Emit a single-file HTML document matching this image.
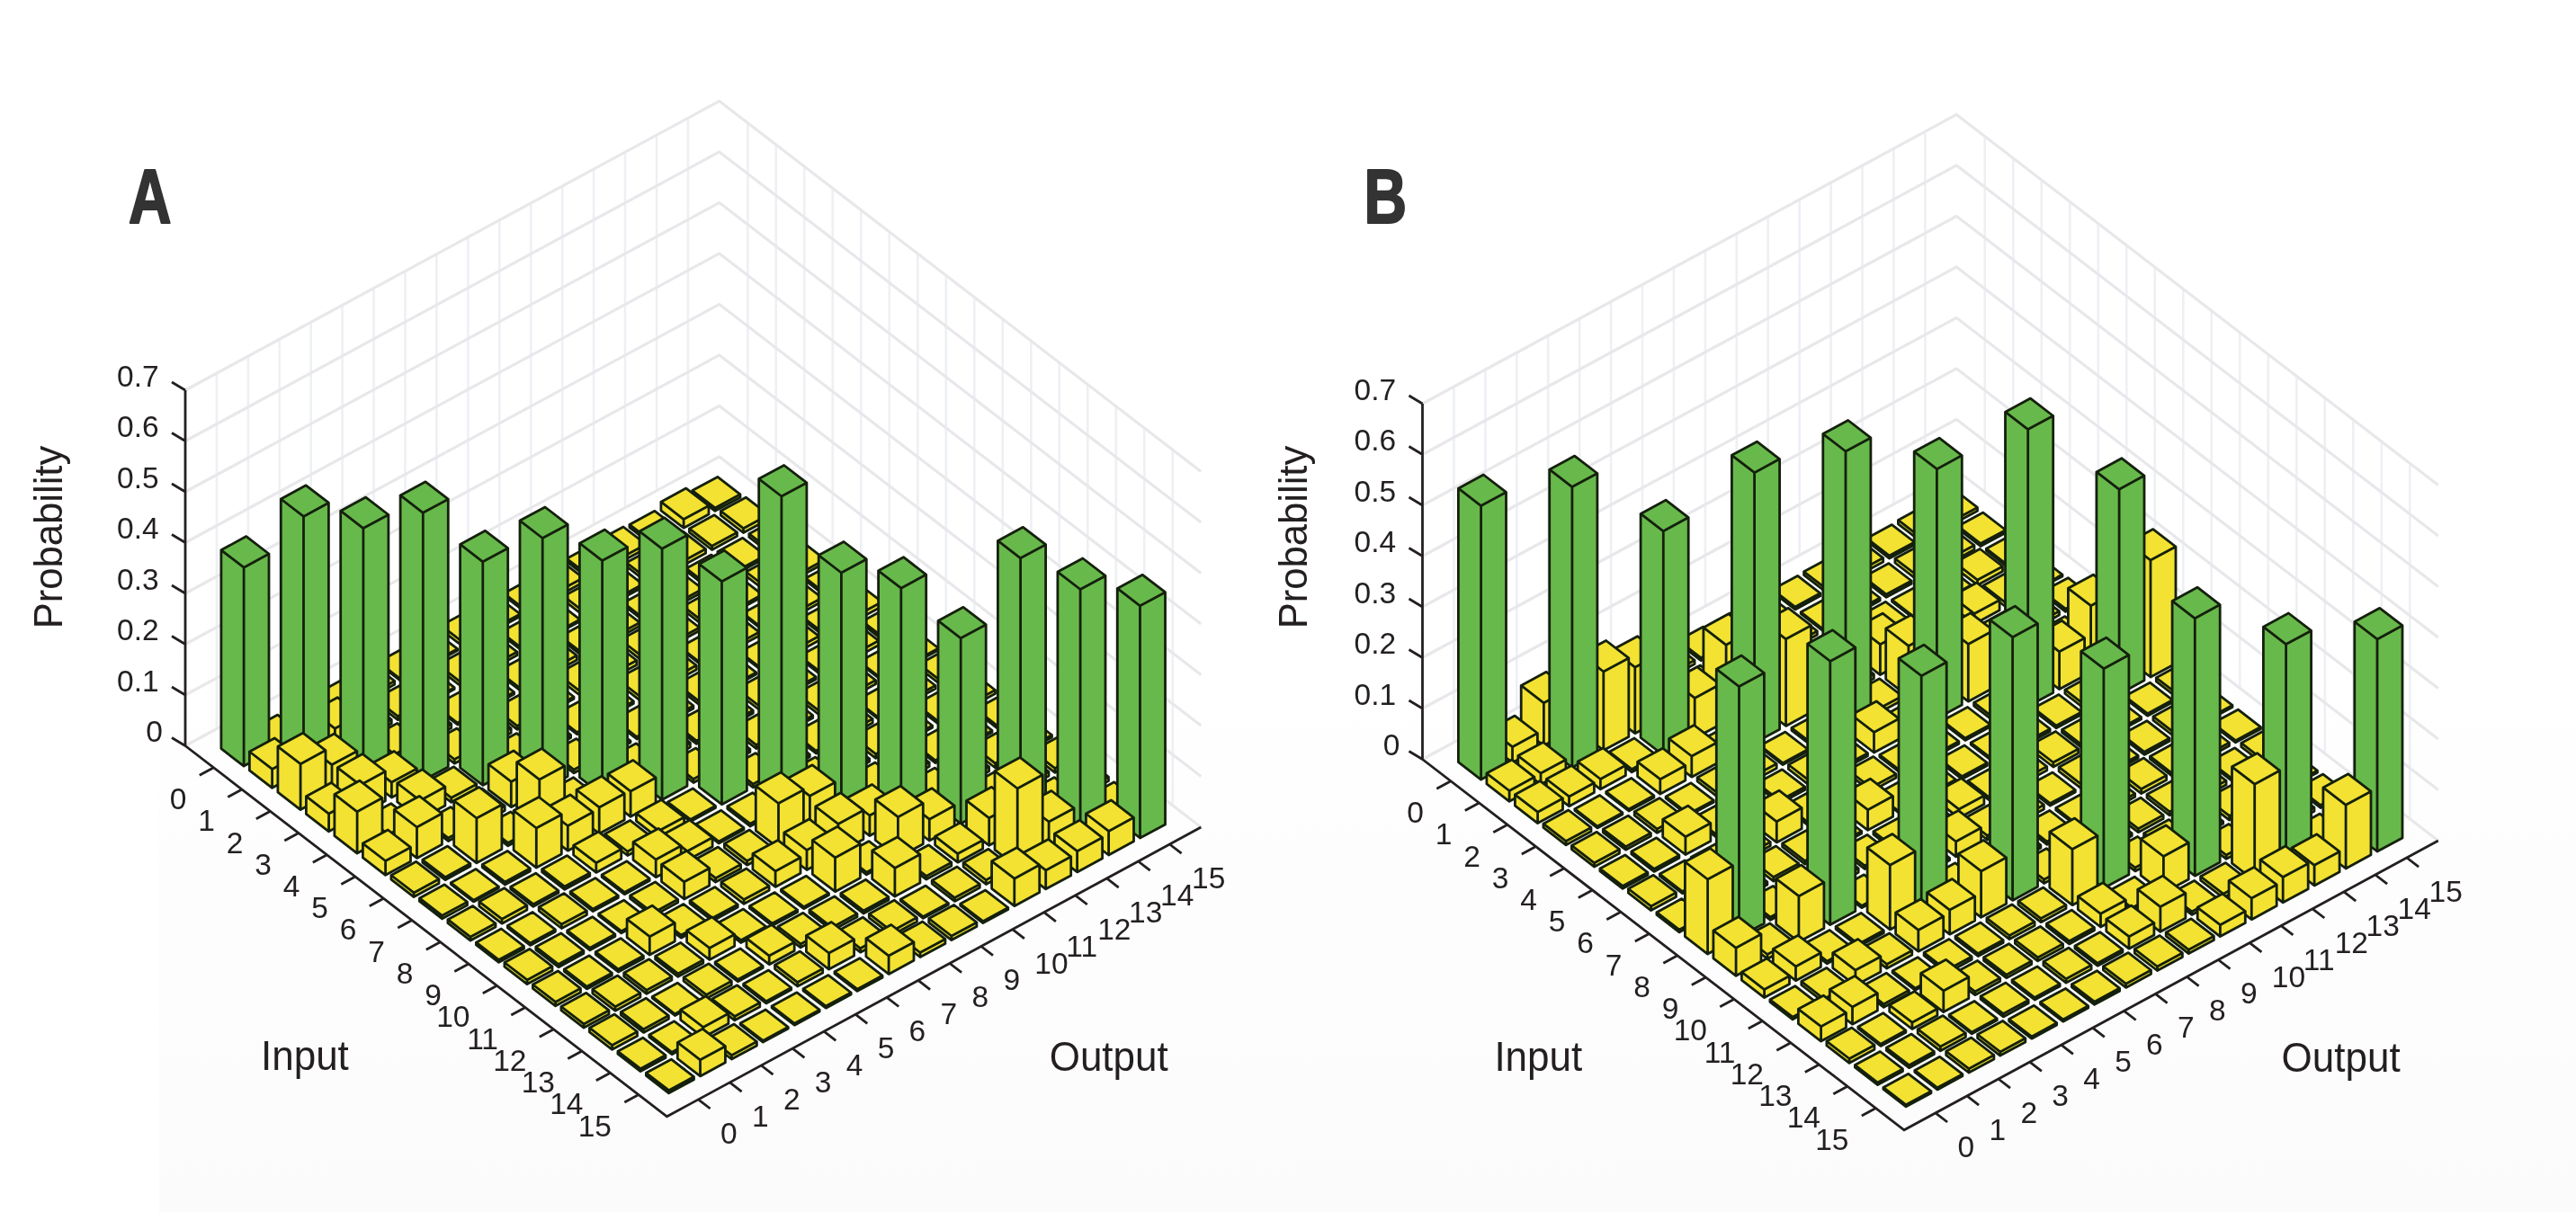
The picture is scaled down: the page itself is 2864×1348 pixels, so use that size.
<!DOCTYPE html><html><head><meta charset="utf-8"><style>html,body{margin:0;padding:0;background:#fff;overflow:hidden}svg{display:block;filter:blur(0.45px)}</style></head><body>
<svg width="2864" height="1348" viewBox="0 0 2864 1348">
<rect width="2864" height="1348" fill="#fff"/>
<defs><linearGradient id="tg" x1="0" y1="0" x2="0" y2="1"><stop offset="0" stop-color="#fcfbfc" stop-opacity="0"/><stop offset="1" stop-color="#fcfbfc" stop-opacity="1"/></linearGradient></defs><rect x="177" y="700" width="2687" height="648" fill="url(#tg)"/>
<path d="M240.9,810.6V415.1M831.3,532.1V136.6M275.9,791.7V396.2M862.8,556.4V160.9M310.8,772.7V377.2M894.3,580.6V185.1M345.7,753.8V358.3M925.8,604.9V209.4M380.6,734.9V339.4M957.3,629.1V233.6M415.6,716V320.5M988.8,653.4V257.9M450.5,697.1V301.6M1020.3,677.6V282.1M485.4,678.1V282.6M1051.8,701.9V306.4M520.4,659.2V263.7M1083.3,726.1V330.6M555.3,640.3V244.8M1114.8,750.4V354.9M590.2,621.4V225.9M1146.3,774.6V379.1M625.2,602.5V207M1177.8,798.9V403.4M660.1,583.5V188M1209.3,823.1V427.6M695,564.6V169.1M1240.8,847.4V451.9M730,545.7V150.2M1272.3,871.6V476.1M764.9,526.8V131.3M1303.8,895.9V500.4" fill="none" stroke="#edf0f4" stroke-width="2.6"/>
<path d="M206,829.5L799.8,507.9L1335.3,920.1M206,773L799.8,451.4L1335.3,863.6M206,716.5L799.8,394.9L1335.3,807.1M206,660L799.8,338.4L1335.3,750.6M206,603.5L799.8,281.9L1335.3,694.1M206,547L799.8,225.4L1335.3,637.6M206,490.5L799.8,168.9L1335.3,581.1M206,434L799.8,112.4L1335.3,524.6" fill="none" stroke="#e8e8eb" stroke-width="3.2" stroke-linejoin="round"/>
<style>.g{fill:#68b94b}.y{fill:#f3e232}</style><g stroke="#14200c" stroke-width="2.8" stroke-linejoin="round" stroke-linecap="round">
<path class="y" d="M769.8,548.9L795,568.3L823,553.2L823,549.8L797.8,530.4L769.8,545.5ZM769.8,545.5L795,564.9L823,549.8M795,564.9L795,568.3"/>
<path class="y" d="M734.9,567.8L760.1,587.2L788,572.1L788,562.5L762.8,543.1L734.9,558.2ZM734.9,558.2L760.1,577.6L788,562.5M760.1,577.6L760.1,587.2"/>
<path class="y" d="M801.3,573.1L826.5,592.5L854.5,577.4L854.5,572.6L829.3,553.2L801.3,568.3ZM801.3,568.3L826.5,587.7L854.5,572.6M826.5,587.7L826.5,592.5"/>
<path class="y" d="M699.9,586.7L725.1,606.1L753.1,591L753.1,587.7L727.9,568.3L699.9,583.4ZM699.9,583.4L725.1,602.8L753.1,587.7M725.1,602.8L725.1,606.1"/>
<path class="y" d="M766.4,592.1L791.6,611.5L819.5,596.3L819.5,592.2L794.3,572.8L766.4,587.9ZM766.4,587.9L791.6,607.3L819.5,592.2M791.6,607.3L791.6,611.5"/>
<path class="y" d="M832.8,597.4L858,616.8L886,601.7L886,598L860.8,578.6L832.8,593.7ZM832.8,593.7L858,613.1L886,598M858,613.1L858,616.8"/>
<path class="y" d="M665,605.7L690.2,625.1L718.2,609.9L718.2,605.4L693,586L665,601.1ZM665,601.1L690.2,620.5L718.2,605.4M690.2,620.5L690.2,625.1"/>
<path class="y" d="M731.4,611L756.6,630.4L784.6,615.3L784.6,610.6L759.4,591.2L731.4,606.3ZM731.4,606.3L756.6,625.7L784.6,610.6M756.6,625.7L756.6,630.4"/>
<path class="y" d="M797.9,616.3L823.1,635.7L851,620.6L851,617.7L825.8,598.3L797.9,613.4ZM797.9,613.4L823.1,632.8L851,617.7M823.1,632.8L823.1,635.7"/>
<path class="y" d="M864.3,621.6L889.5,641L917.5,625.9L917.5,622.3L892.3,602.9L864.3,618ZM864.3,618L889.5,637.4L917.5,622.3M889.5,637.4L889.5,641"/>
<path class="y" d="M630.1,624.6L655.3,644L683.2,628.8L683.2,625.6L658,606.2L630.1,621.3ZM630.1,621.3L655.3,640.7L683.2,625.6M655.3,640.7L655.3,644"/>
<path class="y" d="M696.5,629.9L721.7,649.3L749.7,634.2L749.7,630L724.5,610.6L696.5,625.8ZM696.5,625.8L721.7,645.2L749.7,630M721.7,645.2L721.7,649.3"/>
<path class="y" d="M762.9,635.2L788.1,654.6L816.1,639.5L816.1,636.5L790.9,617.1L762.9,632.2ZM762.9,632.2L788.1,651.6L816.1,636.5M788.1,651.6L788.1,654.6"/>
<path class="y" d="M829.4,640.6L854.6,660L882.5,644.8L882.5,640.3L857.3,620.9L829.4,636ZM829.4,636L854.6,655.4L882.5,640.3M854.6,655.4L854.6,660"/>
<path class="y" d="M895.8,645.9L921,665.3L949,650.2L949,647.3L923.8,627.9L895.8,643.1ZM895.8,643.1L921,662.5L949,647.3M921,662.5L921,665.3"/>
<path class="y" d="M595.2,643.5L620.4,662.9L648.3,647.8L648.3,642.7L623.1,623.3L595.2,638.4ZM595.2,638.4L620.4,657.8L648.3,642.7M620.4,657.8L620.4,662.9"/>
<path class="y" d="M661.6,648.8L686.8,668.2L714.7,653.1L714.7,649.8L689.5,630.4L661.6,645.6ZM661.6,645.6L686.8,665L714.7,649.8M686.8,665L686.8,668.2"/>
<path class="y" d="M728,654.2L753.2,673.6L781.2,658.4L781.2,655L756,635.6L728,650.8ZM728,650.8L753.2,670.2L781.2,655M753.2,670.2L753.2,673.6"/>
<path class="y" d="M794.4,659.5L819.6,678.9L847.6,663.8L847.6,661.3L822.4,641.9L794.4,657.1ZM794.4,657.1L819.6,676.5L847.6,661.3M819.6,676.5L819.6,678.9"/>
<path class="y" d="M860.9,664.8L886.1,684.2L914,669.1L914,665L888.8,645.6L860.9,660.7ZM860.9,660.7L886.1,680.1L914,665M886.1,680.1L886.1,684.2"/>
<path class="y" d="M927.3,670.1L952.5,689.5L980.5,674.4L980.5,669.4L955.3,650L927.3,665.2ZM927.3,665.2L952.5,684.6L980.5,669.4M952.5,684.6L952.5,689.5"/>
<path class="y" d="M560.2,662.4L585.4,681.8L613.4,666.7L613.4,664.2L588.2,644.8L560.2,659.9ZM560.2,659.9L585.4,679.3L613.4,664.2M585.4,679.3L585.4,681.8"/>
<path class="y" d="M626.7,667.7L651.9,687.1L679.8,672L679.8,667.4L654.6,648L626.7,663.1ZM626.7,663.1L651.9,682.5L679.8,667.4M651.9,682.5L651.9,687.1"/>
<path class="y" d="M693.1,673.1L718.3,692.5L746.2,677.3L746.2,674.6L721,655.2L693.1,670.4ZM693.1,670.4L718.3,689.8L746.2,674.6M718.3,689.8L718.3,692.5"/>
<path class="y" d="M759.5,678.4L784.7,697.8L812.7,682.7L812.7,678.5L787.5,659.1L759.5,674.3ZM759.5,674.3L784.7,693.7L812.7,678.5M784.7,693.7L784.7,697.8"/>
<path class="y" d="M825.9,683.7L851.1,703.1L879.1,688L879.1,686.1L853.9,666.7L825.9,681.9ZM825.9,681.9L851.1,701.3L879.1,686.1M851.1,701.3L851.1,703.1"/>
<path class="y" d="M892.4,689.1L917.6,708.5L945.5,693.3L945.5,690.6L920.3,671.2L892.4,686.3ZM892.4,686.3L917.6,705.7L945.5,690.6M917.6,705.7L917.6,708.5"/>
<path class="y" d="M958.8,694.4L984,713.8L1012,698.7L1012,695.2L986.8,675.8L958.8,691ZM958.8,691L984,710.4L1012,695.2M984,710.4L984,713.8"/>
<path class="y" d="M525.3,681.3L550.5,700.7L578.4,685.6L578.4,683L553.2,663.6L525.3,678.7ZM525.3,678.7L550.5,698.1L578.4,683M550.5,698.1L550.5,700.7"/>
<path class="y" d="M591.7,686.7L616.9,706.1L644.9,690.9L644.9,689.1L619.7,669.7L591.7,684.9ZM591.7,684.9L616.9,704.3L644.9,689.1M616.9,704.3L616.9,706.1"/>
<path class="y" d="M658.2,692L683.4,711.4L711.3,696.3L711.3,692.4L686.1,673L658.2,688.2ZM658.2,688.2L683.4,707.6L711.3,692.4M683.4,707.6L683.4,711.4"/>
<path class="y" d="M724.6,697.3L749.8,716.7L777.7,701.6L777.7,698L752.5,678.6L724.6,693.7ZM724.6,693.7L749.8,713.1L777.7,698M749.8,713.1L749.8,716.7"/>
<path class="y" d="M791,702.7L816.2,722.1L844.2,706.9L844.2,703.1L819,683.7L791,698.9ZM791,698.9L816.2,718.3L844.2,703.1M816.2,718.3L816.2,722.1"/>
<path class="y" d="M857.4,708L882.6,727.4L910.6,712.3L910.6,707.6L885.4,688.2L857.4,703.4ZM857.4,703.4L882.6,722.8L910.6,707.6M882.6,722.8L882.6,727.4"/>
<path class="y" d="M923.9,713.3L949.1,732.7L977,717.6L977,712.6L951.8,693.2L923.9,708.3ZM923.9,708.3L949.1,727.7L977,712.6M949.1,727.7L949.1,732.7"/>
<path class="y" d="M990.3,718.6L1015.5,738L1043.5,722.9L1043.5,721L1018.3,701.6L990.3,716.7ZM990.3,716.7L1015.5,736.1L1043.5,721M1015.5,736.1L1015.5,738"/>
<path class="y" d="M490.4,700.3L515.6,719.7L543.5,704.5L543.5,700L518.3,680.6L490.4,695.7ZM490.4,695.7L515.6,715.1L543.5,700M515.6,715.1L515.6,719.7"/>
<path class="y" d="M556.8,705.6L582,725L609.9,709.9L609.9,707.1L584.7,687.7L556.8,702.9ZM556.8,702.9L582,722.3L609.9,707.1M582,722.3L582,725"/>
<path class="y" d="M623.2,710.9L648.4,730.3L676.4,715.2L676.4,712L651.2,692.6L623.2,707.8ZM623.2,707.8L648.4,727.2L676.4,712M648.4,727.2L648.4,730.3"/>
<path class="y" d="M689.7,716.2L714.9,735.6L742.8,720.5L742.8,715.8L717.6,696.4L689.7,711.5ZM689.7,711.5L714.9,730.9L742.8,715.8M714.9,730.9L714.9,735.6"/>
<path class="y" d="M756.1,721.6L781.3,741L809.2,725.8L809.2,724L784,704.6L756.1,719.7ZM756.1,719.7L781.3,739.1L809.2,724M781.3,739.1L781.3,741"/>
<path class="y" d="M822.5,726.9L847.7,746.3L875.7,731.2L875.7,729.3L850.5,709.9L822.5,725ZM822.5,725L847.7,744.4L875.7,729.3M847.7,744.4L847.7,746.3"/>
<path class="y" d="M888.9,732.2L914.1,751.6L942.1,736.5L942.1,733.8L916.9,714.4L888.9,729.5ZM888.9,729.5L914.1,748.9L942.1,733.8M914.1,748.9L914.1,751.6"/>
<path class="y" d="M955.4,737.6L980.6,757L1008.5,741.8L1008.5,740.1L983.3,720.7L955.4,735.8ZM955.4,735.8L980.6,755.2L1008.5,740.1M980.6,755.2L980.6,757"/>
<path class="y" d="M1021.8,742.9L1047,762.3L1075,747.2L1075,743L1049.8,723.6L1021.8,738.7ZM1021.8,738.7L1047,758.1L1075,743M1047,758.1L1047,762.3"/>
<path class="y" d="M455.4,719.2L480.6,738.6L508.6,723.4L508.6,721.7L483.4,702.3L455.4,717.4ZM455.4,717.4L480.6,736.8L508.6,721.7M480.6,736.8L480.6,738.6"/>
<path class="y" d="M521.9,724.5L547.1,743.9L575,728.8L575,725.1L549.8,705.7L521.9,720.8ZM521.9,720.8L547.1,740.2L575,725.1M547.1,740.2L547.1,743.9"/>
<path class="y" d="M588.3,729.8L613.5,749.2L641.4,734.1L641.4,729.1L616.2,709.7L588.3,724.9ZM588.3,724.9L613.5,744.3L641.4,729.1M613.5,744.3L613.5,749.2"/>
<path class="y" d="M654.7,735.2L679.9,754.6L707.9,739.4L707.9,734.5L682.7,715.1L654.7,730.2ZM654.7,730.2L679.9,749.6L707.9,734.5M679.9,749.6L679.9,754.6"/>
<path class="y" d="M721.2,740.5L746.4,759.9L774.3,744.8L774.3,740.1L749.1,720.7L721.2,735.9ZM721.2,735.9L746.4,755.3L774.3,740.1M746.4,755.3L746.4,759.9"/>
<path class="y" d="M787.6,745.8L812.8,765.2L840.7,750.1L840.7,747.9L815.5,728.5L787.6,743.6ZM787.6,743.6L812.8,763L840.7,747.9M812.8,763L812.8,765.2"/>
<path class="y" d="M854,751.2L879.2,770.6L907.2,755.4L907.2,752.9L882,733.5L854,748.7ZM854,748.7L879.2,768.1L907.2,752.9M879.2,768.1L879.2,770.6"/>
<path class="y" d="M920.4,756.5L945.6,775.9L973.6,760.8L973.6,756.6L948.4,737.2L920.4,752.3ZM920.4,752.3L945.6,771.7L973.6,756.6M945.6,771.7L945.6,775.9"/>
<path class="y" d="M986.9,761.8L1012.1,781.2L1040,766.1L1040,762.5L1014.8,743.1L986.9,758.2ZM986.9,758.2L1012.1,777.6L1040,762.5M1012.1,777.6L1012.1,781.2"/>
<path class="y" d="M1053.3,767.1L1078.5,786.5L1106.5,771.4L1106.5,767.5L1081.3,748.1L1053.3,763.2ZM1053.3,763.2L1078.5,782.6L1106.5,767.5M1078.5,782.6L1078.5,786.5"/>
<path class="y" d="M420.5,738.1L445.7,757.5L473.7,742.4L473.7,740.4L448.5,721L420.5,736.2ZM420.5,736.2L445.7,755.6L473.7,740.4M445.7,755.6L445.7,757.5"/>
<path class="y" d="M486.9,743.4L512.1,762.8L540.1,747.7L540.1,743.5L514.9,724.1L486.9,739.2ZM486.9,739.2L512.1,758.6L540.1,743.5M512.1,758.6L512.1,762.8"/>
<path class="y" d="M553.4,748.8L578.6,768.2L606.5,753L606.5,750.6L581.3,731.2L553.4,746.3ZM553.4,746.3L578.6,765.7L606.5,750.6M578.6,765.7L578.6,768.2"/>
<path class="y" d="M619.8,754.1L645,773.5L672.9,758.4L672.9,753.7L647.7,734.3L619.8,749.5ZM619.8,749.5L645,768.9L672.9,753.7M645,768.9L645,773.5"/>
<path class="y" d="M686.2,759.4L711.4,778.8L739.4,763.7L739.4,759.4L714.2,740L686.2,755.1ZM686.2,755.1L711.4,774.5L739.4,759.4M711.4,774.5L711.4,778.8"/>
<path class="y" d="M752.7,764.7L777.9,784.1L805.8,769L805.8,765.2L780.6,745.8L752.7,761ZM752.7,761L777.9,780.4L805.8,765.2M777.9,780.4L777.9,784.1"/>
<path class="y" d="M819.1,770.1L844.3,789.5L872.2,774.3L872.2,770.2L847,750.8L819.1,766ZM819.1,766L844.3,785.4L872.2,770.2M844.3,785.4L844.3,789.5"/>
<path class="y" d="M885.5,775.4L910.7,794.8L938.7,779.7L938.7,775.6L913.5,756.2L885.5,771.3ZM885.5,771.3L910.7,790.7L938.7,775.6M910.7,790.7L910.7,794.8"/>
<path class="y" d="M951.9,780.7L977.1,800.1L1005.1,785L1005.1,783.2L979.9,763.8L951.9,778.9ZM951.9,778.9L977.1,798.3L1005.1,783.2M977.1,798.3L977.1,800.1"/>
<path class="y" d="M1018.4,786.1L1043.6,805.5L1071.5,790.3L1071.5,787.5L1046.3,768.1L1018.4,783.2ZM1018.4,783.2L1043.6,802.6L1071.5,787.5M1043.6,802.6L1043.6,805.5"/>
<path class="y" d="M1084.8,791.4L1110,810.8L1138,795.7L1138,793L1112.8,773.5L1084.8,788.7ZM1084.8,788.7L1110,808.1L1138,793M1110,808.1L1110,810.8"/>
<path class="y" d="M385.6,757L410.8,776.4L438.7,761.3L438.7,757.4L413.5,738L385.6,753.2ZM385.6,753.2L410.8,772.6L438.7,757.4M410.8,772.6L410.8,776.4"/>
<path class="y" d="M452,762.3L477.2,781.7L505.2,766.6L505.2,764.7L480,745.3L452,760.4ZM452,760.4L477.2,779.8L505.2,764.7M477.2,779.8L477.2,781.7"/>
<path class="y" d="M518.4,767.7L543.6,787.1L571.6,771.9L571.6,769.8L546.4,750.4L518.4,765.5ZM518.4,765.5L543.6,784.9L571.6,769.8M543.6,784.9L543.6,787.1"/>
<path class="y" d="M584.9,773L610.1,792.4L638,777.3L638,775L612.8,755.6L584.9,770.7ZM584.9,770.7L610.1,790.1L638,775M610.1,790.1L610.1,792.4"/>
<path class="y" d="M651.3,778.3L676.5,797.7L704.4,782.6L704.4,779.9L679.2,760.5L651.3,775.6ZM651.3,775.6L676.5,795L704.4,779.9M676.5,795L676.5,797.7"/>
<path class="y" d="M717.7,783.7L742.9,803.1L770.9,787.9L770.9,784.9L745.7,765.5L717.7,780.6ZM717.7,780.6L742.9,800L770.9,784.9M742.9,800L742.9,803.1"/>
<path class="y" d="M784.2,789L809.4,808.4L837.3,793.3L837.3,790.1L812.1,770.7L784.2,785.8ZM784.2,785.8L809.4,805.2L837.3,790.1M809.4,805.2L809.4,808.4"/>
<path class="y" d="M850.6,794.3L875.8,813.7L903.7,798.6L903.7,795.7L878.5,776.3L850.6,791.4ZM850.6,791.4L875.8,810.8L903.7,795.7M875.8,810.8L875.8,813.7"/>
<path class="y" d="M917,799.7L942.2,819.1L970.2,803.9L970.2,799.6L945,780.2L917,795.4ZM917,795.4L942.2,814.8L970.2,799.6M942.2,814.8L942.2,819.1"/>
<path class="y" d="M983.4,805L1008.6,824.4L1036.6,809.3L1036.6,807L1011.4,787.6L983.4,802.7ZM983.4,802.7L1008.6,822.1L1036.6,807M1008.6,822.1L1008.6,824.4"/>
<path class="y" d="M1049.9,810.3L1075.1,829.7L1103,814.6L1103,812.4L1077.8,793L1049.9,808.2ZM1049.9,808.2L1075.1,827.6L1103,812.4M1075.1,827.6L1075.1,829.7"/>
<path class="y" d="M1116.3,815.6L1141.5,835L1169.5,819.9L1169.5,817.5L1144.3,798.1L1116.3,813.2ZM1116.3,813.2L1141.5,832.6L1169.5,817.5M1141.5,832.6L1141.5,835"/>
<path class="y" d="M350.6,775.9L375.8,795.3L403.8,780.2L403.8,776.5L378.6,757.1L350.6,772.2ZM350.6,772.2L375.8,791.6L403.8,776.5M375.8,791.6L375.8,795.3"/>
<path class="y" d="M417.1,781.3L442.3,800.7L470.2,785.5L470.2,781.6L445,762.2L417.1,777.3ZM417.1,777.3L442.3,796.7L470.2,781.6M442.3,796.7L442.3,800.7"/>
<path class="y" d="M483.5,786.6L508.7,806L536.7,790.9L536.7,788.8L511.5,769.4L483.5,784.6ZM483.5,784.6L508.7,804L536.7,788.8M508.7,804L508.7,806"/>
<path class="y" d="M549.9,791.9L575.1,811.3L603.1,796.2L603.1,792.2L577.9,772.8L549.9,788ZM549.9,788L575.1,807.4L603.1,792.2M575.1,807.4L575.1,811.3"/>
<path class="y" d="M616.4,797.3L641.6,816.7L669.5,801.5L669.5,799.3L644.3,779.9L616.4,795.1ZM616.4,795.1L641.6,814.5L669.5,799.3M641.6,814.5L641.6,816.7"/>
<path class="y" d="M682.8,802.6L708,822L735.9,806.9L735.9,804.5L710.7,785.1L682.8,800.2ZM682.8,800.2L708,819.6L735.9,804.5M708,819.6L708,822"/>
<path class="y" d="M749.2,807.9L774.4,827.3L802.4,812.2L802.4,808.8L777.2,789.4L749.2,804.5ZM749.2,804.5L774.4,823.9L802.4,808.8M774.4,823.9L774.4,827.3"/>
<path class="y" d="M815.7,813.2L840.9,832.6L868.8,817.5L868.8,813.5L843.6,794.1L815.7,809.2ZM815.7,809.2L840.9,828.6L868.8,813.5M840.9,828.6L840.9,832.6"/>
<path class="y" d="M882.1,818.6L907.3,838L935.2,822.8L935.2,819.8L910,800.4L882.1,815.6ZM882.1,815.6L907.3,835L935.2,819.8M907.3,835L907.3,838"/>
<path class="y" d="M948.5,823.9L973.7,843.3L1001.7,828.2L1001.7,823.6L976.5,804.2L948.5,819.3ZM948.5,819.3L973.7,838.7L1001.7,823.6M973.7,838.7L973.7,843.3"/>
<path class="y" d="M1014.9,829.2L1040.1,848.6L1068.1,833.5L1068.1,830.6L1042.9,811.2L1014.9,826.4ZM1014.9,826.4L1040.1,845.8L1068.1,830.6M1040.1,845.8L1040.1,848.6"/>
<path class="y" d="M1081.4,834.6L1106.6,854L1134.5,838.8L1134.5,834L1109.3,814.6L1081.4,829.7ZM1081.4,829.7L1106.6,849.1L1134.5,834M1106.6,849.1L1106.6,854"/>
<path class="y" d="M1147.8,839.9L1173,859.3L1201,844.2L1201,839.4L1175.8,820L1147.8,835.2ZM1147.8,835.2L1173,854.6L1201,839.4M1173,854.6L1173,859.3"/>
<path class="y" d="M315.7,794.9L340.9,814.3L368.9,799.1L368.9,796.2L343.7,776.8L315.7,791.9ZM315.7,791.9L340.9,811.3L368.9,796.2M340.9,811.3L340.9,814.3"/>
<path class="y" d="M382.1,800.2L407.3,819.6L435.3,804.5L435.3,800.3L410.1,780.9L382.1,796ZM382.1,796L407.3,815.4L435.3,800.3M407.3,815.4L407.3,819.6"/>
<path class="y" d="M448.6,805.5L473.8,824.9L501.7,809.8L501.7,805.1L476.5,785.7L448.6,800.8ZM448.6,800.8L473.8,820.2L501.7,805.1M473.8,820.2L473.8,824.9"/>
<path class="y" d="M515,810.8L540.2,830.2L568.2,815.1L568.2,810.1L543,790.7L515,805.8ZM515,805.8L540.2,825.2L568.2,810.1M540.2,825.2L540.2,830.2"/>
<path class="y" d="M581.4,816.2L606.6,835.6L634.6,820.4L634.6,817.3L609.4,797.9L581.4,813.1ZM581.4,813.1L606.6,832.5L634.6,817.3M606.6,832.5L606.6,835.6"/>
<path class="y" d="M647.9,821.5L673.1,840.9L701,825.8L701,824L675.8,804.6L647.9,819.7ZM647.9,819.7L673.1,839.1L701,824M673.1,839.1L673.1,840.9"/>
<path class="y" d="M714.3,826.8L739.5,846.2L767.4,831.1L767.4,826.2L742.2,806.8L714.3,822ZM714.3,822L739.5,841.4L767.4,826.2M739.5,841.4L739.5,846.2"/>
<path class="y" d="M780.7,832.2L805.9,851.6L833.9,836.4L833.9,833.2L808.7,813.8L780.7,828.9ZM780.7,828.9L805.9,848.3L833.9,833.2M805.9,848.3L805.9,851.6"/>
<path class="y" d="M847.2,837.5L872.4,856.9L900.3,841.8L900.3,839.1L875.1,819.6L847.2,834.8ZM847.2,834.8L872.4,854.2L900.3,839.1M872.4,854.2L872.4,856.9"/>
<path class="y" d="M913.6,842.8L938.8,862.2L966.7,847.1L966.7,843.9L941.5,824.5L913.6,839.7ZM913.6,839.7L938.8,859.1L966.7,843.9M938.8,859.1L938.8,862.2"/>
<path class="y" d="M980,848.2L1005.2,867.6L1033.2,852.4L1033.2,848L1008,828.6L980,843.8ZM980,843.8L1005.2,863.2L1033.2,848M1005.2,863.2L1005.2,867.6"/>
<path class="y" d="M1046.4,853.5L1071.6,872.9L1099.6,857.8L1099.6,852.8L1074.4,833.4L1046.4,848.6ZM1046.4,848.6L1071.6,868L1099.6,852.8M1071.6,868L1071.6,872.9"/>
<path class="y" d="M1112.9,858.8L1138.1,878.2L1166,863.1L1166,858.3L1140.8,838.9L1112.9,854ZM1112.9,854L1138.1,873.4L1166,858.3M1138.1,873.4L1138.1,878.2"/>
<path class="y" d="M1179.3,864.1L1204.5,883.5L1232.5,868.4L1232.5,864.1L1207.3,844.7L1179.3,859.8ZM1179.3,859.8L1204.5,879.2L1232.5,864.1M1204.5,879.2L1204.5,883.5"/>
<path class="y" d="M280.8,813.8L306,833.2L333.9,818L333.9,814.5L308.7,795.1L280.8,810.2ZM280.8,810.2L306,829.6L333.9,814.5M306,829.6L306,833.2"/>
<path class="y" d="M347.2,819.1L372.4,838.5L400.4,823.4L400.4,795.1L375.2,775.7L347.2,790.9ZM347.2,790.9L372.4,810.3L400.4,795.1M372.4,810.3L372.4,838.5"/>
<path class="y" d="M413.6,824.4L438.8,843.8L466.8,828.7L466.8,823.8L441.6,804.4L413.6,819.6ZM413.6,819.6L438.8,839L466.8,823.8M438.8,839L438.8,843.8"/>
<path class="y" d="M480.1,829.8L505.3,849.2L533.2,834L533.2,829.5L508,810.1L480.1,825.2ZM480.1,825.2L505.3,844.6L533.2,829.5M505.3,844.6L505.3,849.2"/>
<path class="y" d="M546.5,835.1L571.7,854.5L599.7,839.4L599.7,835L574.5,815.6L546.5,830.7ZM546.5,830.7L571.7,850.1L599.7,835M571.7,850.1L571.7,854.5"/>
<path class="y" d="M612.9,840.4L638.1,859.8L666.1,844.7L666.1,841L640.9,821.6L612.9,836.7ZM612.9,836.7L638.1,856.1L666.1,841M638.1,856.1L638.1,859.8"/>
<path class="y" d="M679.4,845.8L704.6,865.2L732.5,850L732.5,846.2L707.3,826.8L679.4,842ZM679.4,842L704.6,861.4L732.5,846.2M704.6,861.4L704.6,865.2"/>
<path class="y" d="M745.8,851.1L771,870.5L798.9,855.4L798.9,851.5L773.7,832.1L745.8,847.2ZM745.8,847.2L771,866.6L798.9,851.5M771,866.6L771,870.5"/>
<path class="y" d="M812.2,856.4L837.4,875.8L865.4,860.7L865.4,857L840.2,837.6L812.2,852.7ZM812.2,852.7L837.4,872.1L865.4,857M837.4,872.1L837.4,875.8"/>
<path class="y" d="M878.7,861.7L903.9,881.1L931.8,866L931.8,861.5L906.6,842.1L878.7,857.2ZM878.7,857.2L903.9,876.6L931.8,861.5M903.9,876.6L903.9,881.1"/>
<path class="y" d="M945.1,867.1L970.3,886.5L998.2,871.3L998.2,867.4L973,848L945.1,863.2ZM945.1,863.2L970.3,882.6L998.2,867.4M970.3,882.6L970.3,886.5"/>
<path class="y" d="M1011.5,872.4L1036.7,891.8L1064.7,876.7L1064.7,873.5L1039.5,854.1L1011.5,869.2ZM1011.5,869.2L1036.7,888.6L1064.7,873.5M1036.7,888.6L1036.7,891.8"/>
<path class="y" d="M1077.9,877.7L1103.1,897.1L1131.1,882L1131.1,877.9L1105.9,858.5L1077.9,873.7ZM1077.9,873.7L1103.1,893.1L1131.1,877.9M1103.1,893.1L1103.1,897.1"/>
<path class="y" d="M1144.4,883.1L1169.6,902.5L1197.5,887.3L1197.5,884L1172.3,864.6L1144.4,879.7ZM1144.4,879.7L1169.6,899.1L1197.5,884M1169.6,899.1L1169.6,902.5"/>
<path class="y" d="M1210.8,888.4L1236,907.8L1264,892.7L1264,889.2L1238.8,869.8L1210.8,884.9ZM1210.8,884.9L1236,904.3L1264,889.2M1236,904.3L1236,907.8"/>
<path class="g" d="M245.9,832.7L271.1,852.1L299,837L299,616L273.8,596.6L245.9,611.8ZM245.9,611.8L271.1,631.2L299,616M271.1,631.2L271.1,852.1"/>
<path class="g" d="M312.3,838L337.5,857.4L365.4,842.3L365.4,559.2L340.2,539.8L312.3,555ZM312.3,555L337.5,574.4L365.4,559.2M337.5,574.4L337.5,857.4"/>
<path class="g" d="M378.7,843.4L403.9,862.8L431.9,847.6L431.9,572.5L406.7,553.1L378.7,568.2ZM378.7,568.2L403.9,587.6L431.9,572.5M403.9,587.6L403.9,862.8"/>
<path class="g" d="M445.1,848.7L470.3,868.1L498.3,853L498.3,555.2L473.1,535.8L445.1,550.9ZM445.1,550.9L470.3,570.3L498.3,555.2M470.3,570.3L470.3,868.1"/>
<path class="g" d="M511.6,854L536.8,873.4L564.7,858.3L564.7,609.7L539.5,590.3L511.6,605.4ZM511.6,605.4L536.8,624.8L564.7,609.7M536.8,624.8L536.8,873.4"/>
<path class="g" d="M578,859.3L603.2,878.7L631.2,863.6L631.2,583.4L606,564L578,579.1ZM578,579.1L603.2,598.5L631.2,583.4M603.2,598.5L603.2,878.7"/>
<path class="g" d="M644.4,864.7L669.6,884.1L697.6,868.9L697.6,608.5L672.4,589.1L644.4,604.2ZM644.4,604.2L669.6,623.6L697.6,608.5M669.6,623.6L669.6,884.1"/>
<path class="g" d="M710.9,870L736.1,889.4L764,874.3L764,595.2L738.8,575.8L710.9,590.9ZM710.9,590.9L736.1,610.3L764,595.2M736.1,610.3L736.1,889.4"/>
<path class="g" d="M777.3,875.3L802.5,894.7L830.4,879.6L830.4,631.6L805.2,612.2L777.3,627.3ZM777.3,627.3L802.5,646.7L830.4,631.6M802.5,646.7L802.5,894.7"/>
<path class="g" d="M843.7,880.7L868.9,900.1L896.9,884.9L896.9,536.9L871.7,517.5L843.7,532.6ZM843.7,532.6L868.9,552L896.9,536.9M868.9,552L868.9,900.1"/>
<path class="g" d="M910.2,886L935.4,905.4L963.3,890.3L963.3,621.9L938.1,602.5L910.2,617.6ZM910.2,617.6L935.4,637L963.3,621.9M935.4,637L935.4,905.4"/>
<path class="g" d="M976.6,891.3L1001.8,910.7L1029.7,895.6L1029.7,639.1L1004.5,619.7L976.6,634.8ZM976.6,634.8L1001.8,654.2L1029.7,639.1M1001.8,654.2L1001.8,910.7"/>
<path class="g" d="M1043,896.7L1068.2,916.1L1096.2,900.9L1096.2,694.7L1071,675.3L1043,690.4ZM1043,690.4L1068.2,709.8L1096.2,694.7M1068.2,709.8L1068.2,916.1"/>
<path class="g" d="M1109.4,902L1134.6,921.4L1162.6,906.3L1162.6,605.7L1137.4,586.3L1109.4,601.4ZM1109.4,601.4L1134.6,620.8L1162.6,605.7M1134.6,620.8L1134.6,921.4"/>
<path class="g" d="M1175.9,907.3L1201.1,926.7L1229,911.6L1229,640.4L1203.8,621L1175.9,636.1ZM1175.9,636.1L1201.1,655.5L1229,640.4M1201.1,655.5L1201.1,926.7"/>
<path class="g" d="M1242.3,912.6L1267.5,932L1295.5,916.9L1295.5,658.7L1270.3,639.3L1242.3,654.4ZM1242.3,654.4L1267.5,673.8L1295.5,658.7M1267.5,673.8L1267.5,932"/>
<path class="y" d="M277.4,856.9L302.6,876.3L330.5,861.2L330.5,840.3L305.3,820.9L277.4,836ZM277.4,836L302.6,855.4L330.5,840.3M302.6,855.4L302.6,876.3"/>
<path class="y" d="M343.8,862.3L369,881.7L396.9,866.5L396.9,835.5L371.7,816.1L343.8,831.2ZM343.8,831.2L369,850.6L396.9,835.5M369,850.6L369,881.7"/>
<path class="y" d="M410.2,867.6L435.4,887L463.4,871.9L463.4,854.9L438.2,835.5L410.2,850.7ZM410.2,850.7L435.4,870.1L463.4,854.9M435.4,870.1L435.4,887"/>
<path class="y" d="M476.6,872.9L501.8,892.3L529.8,877.2L529.8,872.2L504.6,852.8L476.6,867.9ZM476.6,867.9L501.8,887.3L529.8,872.2M501.8,887.3L501.8,892.3"/>
<path class="y" d="M543.1,878.3L568.3,897.7L596.2,882.5L596.2,854.3L571,834.9L543.1,850ZM543.1,850L568.3,869.4L596.2,854.3M568.3,869.4L568.3,897.7"/>
<path class="y" d="M609.5,883.6L634.7,903L662.7,887.9L662.7,884.1L637.5,864.7L609.5,879.9ZM609.5,879.9L634.7,899.3L662.7,884.1M634.7,899.3L634.7,903"/>
<path class="y" d="M675.9,888.9L701.1,908.3L729.1,893.2L729.1,864.9L703.9,845.5L675.9,860.7ZM675.9,860.7L701.1,880.1L729.1,864.9M701.1,880.1L701.1,908.3"/>
<path class="y" d="M742.4,894.3L767.6,913.7L795.5,898.5L795.5,896.3L770.3,876.9L742.4,892ZM742.4,892L767.6,911.4L795.5,896.3M767.6,911.4L767.6,913.7"/>
<path class="y" d="M808.8,899.6L834,919L861.9,903.9L861.9,901.1L836.7,881.7L808.8,896.8ZM808.8,896.8L834,916.2L861.9,901.1M834,916.2L834,919"/>
<path class="y" d="M875.2,904.9L900.4,924.3L928.4,909.2L928.4,870.2L903.2,850.8L875.2,865.9ZM875.2,865.9L900.4,885.3L928.4,870.2M900.4,885.3L900.4,924.3"/>
<path class="y" d="M941.7,910.2L966.9,929.6L994.8,914.5L994.8,891.9L969.6,872.5L941.7,887.6ZM941.7,887.6L966.9,907L994.8,891.9M966.9,907L966.9,929.6"/>
<path class="y" d="M1008.1,915.6L1033.3,935L1061.2,919.8L1061.2,896.1L1036,876.7L1008.1,891.8ZM1008.1,891.8L1033.3,911.2L1061.2,896.1M1033.3,911.2L1033.3,935"/>
<path class="y" d="M1074.5,920.9L1099.7,940.3L1127.7,925.2L1127.7,894.7L1102.5,875.3L1074.5,890.4ZM1074.5,890.4L1099.7,909.8L1127.7,894.7M1099.7,909.8L1099.7,940.3"/>
<path class="y" d="M1140.9,926.2L1166.1,945.6L1194.1,930.5L1194.1,898.9L1168.9,879.5L1140.9,894.6ZM1140.9,894.6L1166.1,914L1194.1,898.9M1166.1,914L1166.1,945.6"/>
<path class="y" d="M1207.4,931.6L1232.6,951L1260.5,935.8L1260.5,909.3L1235.3,889.9L1207.4,905ZM1207.4,905L1232.6,924.4L1260.5,909.3M1232.6,924.4L1232.6,951"/>
<path class="y" d="M308.9,881.2L334.1,900.6L362,885.5L362,834.6L336.8,815.2L308.9,830.3ZM308.9,830.3L334.1,849.7L362,834.6M334.1,849.7L334.1,900.6"/>
<path class="y" d="M375.3,886.5L400.5,905.9L428.4,890.8L428.4,858L403.2,838.6L375.3,853.8ZM375.3,853.8L400.5,873.2L428.4,858M400.5,873.2L400.5,905.9"/>
<path class="y" d="M441.7,891.9L466.9,911.3L494.9,896.1L494.9,875.2L469.7,855.8L441.7,871ZM441.7,871L466.9,890.4L494.9,875.2M466.9,890.4L466.9,911.3"/>
<path class="y" d="M508.1,897.2L533.3,916.6L561.3,901.5L561.3,896.4L536.1,877L508.1,892.1ZM508.1,892.1L533.3,911.5L561.3,896.4M533.3,911.5L533.3,916.6"/>
<path class="y" d="M574.6,902.5L599.8,921.9L627.7,906.8L627.7,852L602.5,832.6L574.6,847.7ZM574.6,847.7L599.8,867.1L627.7,852M599.8,867.1L599.8,921.9"/>
<path class="y" d="M641,907.8L666.2,927.2L694.2,912.1L694.2,882.7L669,863.3L641,878.5ZM641,878.5L666.2,897.9L694.2,882.7M666.2,897.9L666.2,927.2"/>
<path class="y" d="M707.4,913.2L732.6,932.6L760.6,917.4L760.6,909L735.4,889.6L707.4,904.7ZM707.4,904.7L732.6,924.1L760.6,909M732.6,924.1L732.6,932.6"/>
<path class="y" d="M773.9,918.5L799.1,937.9L827,922.8L827,920.7L801.8,901.3L773.9,916.5ZM773.9,916.5L799.1,935.9L827,920.7M799.1,935.9L799.1,937.9"/>
<path class="y" d="M840.3,923.8L865.5,943.2L893.4,928.1L893.4,878.4L868.2,859L840.3,874.1ZM840.3,874.1L865.5,893.5L893.4,878.4M865.5,893.5L865.5,943.2"/>
<path class="y" d="M906.7,929.2L931.9,948.6L959.9,933.4L959.9,901.2L934.7,881.8L906.7,897ZM906.7,897L931.9,916.4L959.9,901.2M931.9,916.4L931.9,948.6"/>
<path class="y" d="M973.2,934.5L998.4,953.9L1026.3,938.8L1026.3,893.6L1001.1,874.2L973.2,889.3ZM973.2,889.3L998.4,908.7L1026.3,893.6M998.4,908.7L998.4,953.9"/>
<path class="y" d="M1039.6,939.8L1064.8,959.2L1092.7,944.1L1092.7,934.5L1067.5,915.1L1039.6,930.2ZM1039.6,930.2L1064.8,949.6L1092.7,934.5M1064.8,949.6L1064.8,959.2"/>
<path class="y" d="M1106,945.2L1131.2,964.6L1159.2,949.4L1159.2,861.8L1134,842.4L1106,857.6ZM1106,857.6L1131.2,877L1159.2,861.8M1131.2,877L1131.2,964.6"/>
<path class="y" d="M1172.4,950.5L1197.6,969.9L1225.6,954.8L1225.6,931.6L1200.4,912.2L1172.4,927.3ZM1172.4,927.3L1197.6,946.7L1225.6,931.6M1197.6,946.7L1197.6,969.9"/>
<path class="y" d="M340.4,905.4L365.6,924.8L393.5,909.7L393.5,889.9L368.3,870.5L340.4,885.7ZM340.4,885.7L365.6,905.1L393.5,889.9M365.6,905.1L365.6,924.8"/>
<path class="y" d="M406.8,910.8L432,930.2L459.9,915L459.9,913.1L434.7,893.7L406.8,908.9ZM406.8,908.9L432,928.3L459.9,913.1M432,928.3L432,930.2"/>
<path class="y" d="M473.2,916.1L498.4,935.5L526.4,920.4L526.4,917L501.2,897.6L473.2,912.7ZM473.2,912.7L498.4,932.1L526.4,917M498.4,932.1L498.4,935.5"/>
<path class="y" d="M539.6,921.4L564.8,940.8L592.8,925.7L592.8,922.3L567.6,902.9L539.6,918ZM539.6,918L564.8,937.4L592.8,922.3M564.8,937.4L564.8,940.8"/>
<path class="y" d="M606.1,926.8L631.3,946.2L659.2,931L659.2,903.3L634,883.9L606.1,899.1ZM606.1,899.1L631.3,918.5L659.2,903.3M631.3,918.5L631.3,946.2"/>
<path class="y" d="M672.5,932.1L697.7,951.5L725.7,936.4L725.7,931.8L700.5,912.4L672.5,927.6ZM672.5,927.6L697.7,947L725.7,931.8M697.7,947L697.7,951.5"/>
<path class="y" d="M738.9,937.4L764.1,956.8L792.1,941.7L792.1,931.5L766.9,912.1L738.9,927.3ZM738.9,927.3L764.1,946.7L792.1,931.5M764.1,946.7L764.1,956.8"/>
<path class="y" d="M805.4,942.8L830.6,962.2L858.5,947L858.5,942.5L833.3,923.1L805.4,938.2ZM805.4,938.2L830.6,957.6L858.5,942.5M830.6,957.6L830.6,962.2"/>
<path class="y" d="M871.8,948.1L897,967.5L924.9,952.4L924.9,930.3L899.7,910.9L871.8,926.1ZM871.8,926.1L897,945.5L924.9,930.3M897,945.5L897,967.5"/>
<path class="y" d="M938.2,953.4L963.4,972.8L991.4,957.7L991.4,955L966.2,935.6L938.2,950.8ZM938.2,950.8L963.4,970.2L991.4,955M963.4,970.2L963.4,972.8"/>
<path class="y" d="M1004.7,958.7L1029.9,978.1L1057.8,963L1057.8,959.2L1032.6,939.8L1004.7,955ZM1004.7,955L1029.9,974.4L1057.8,959.2M1029.9,974.4L1029.9,978.1"/>
<path class="y" d="M1071.1,964.1L1096.3,983.5L1124.2,968.3L1124.2,963.7L1099,944.3L1071.1,959.4ZM1071.1,959.4L1096.3,978.8L1124.2,963.7M1096.3,978.8L1096.3,983.5"/>
<path class="y" d="M1137.5,969.4L1162.7,988.8L1190.7,973.7L1190.7,952.8L1165.5,933.4L1137.5,948.5ZM1137.5,948.5L1162.7,967.9L1190.7,952.8M1162.7,967.9L1162.7,988.8"/>
<path class="y" d="M371.9,929.7L397.1,949.1L425,934L425,887.6L399.8,868.2L371.9,883.4ZM371.9,883.4L397.1,902.8L425,887.6M397.1,902.8L397.1,949.1"/>
<path class="y" d="M438.3,935L463.5,954.4L491.4,939.3L491.4,904.8L466.2,885.4L438.3,900.6ZM438.3,900.6L463.5,920L491.4,904.8M463.5,920L463.5,954.4"/>
<path class="y" d="M504.7,940.4L529.9,959.8L557.9,944.6L557.9,894.9L532.7,875.5L504.7,890.6ZM504.7,890.6L529.9,910L557.9,894.9M529.9,910L529.9,959.8"/>
<path class="y" d="M571.1,945.7L596.3,965.1L624.3,950L624.3,905.9L599.1,886.5L571.1,901.6ZM571.1,901.6L596.3,921L624.3,905.9M596.3,921L596.3,965.1"/>
<path class="y" d="M637.6,951L662.8,970.4L690.7,955.3L690.7,944.5L665.5,925.1L637.6,940.3ZM637.6,940.3L662.8,959.7L690.7,944.5M662.8,959.7L662.8,970.4"/>
<path class="y" d="M704,956.3L729.2,975.7L757.2,960.6L757.2,940.8L732,921.4L704,936.6ZM704,936.6L729.2,956L757.2,940.8M729.2,956L729.2,975.7"/>
<path class="y" d="M770.4,961.7L795.6,981.1L823.6,965.9L823.6,961.5L798.4,942.1L770.4,957.3ZM770.4,957.3L795.6,976.7L823.6,961.5M795.6,976.7L795.6,981.1"/>
<path class="y" d="M836.9,967L862.1,986.4L890,971.3L890,953.8L864.8,934.4L836.9,949.5ZM836.9,949.5L862.1,968.9L890,953.8M862.1,968.9L862.1,986.4"/>
<path class="y" d="M903.3,972.3L928.5,991.7L956.4,976.6L956.4,938.7L931.2,919.3L903.3,934.5ZM903.3,934.5L928.5,953.9L956.4,938.7M928.5,953.9L928.5,991.7"/>
<path class="y" d="M969.7,977.7L994.9,997.1L1022.9,981.9L1022.9,950.3L997.7,930.9L969.7,946ZM969.7,946L994.9,965.4L1022.9,950.3M994.9,965.4L994.9,997.1"/>
<path class="y" d="M1036.2,983L1061.4,1002.4L1089.3,987.3L1089.3,983.4L1064.1,964L1036.2,979.2ZM1036.2,979.2L1061.4,998.6L1089.3,983.4M1061.4,998.6L1061.4,1002.4"/>
<path class="y" d="M1102.6,988.3L1127.8,1007.7L1155.7,992.6L1155.7,962.1L1130.5,942.7L1102.6,957.8ZM1102.6,957.8L1127.8,977.2L1155.7,962.1M1127.8,977.2L1127.8,1007.7"/>
<path class="y" d="M403.4,953.9L428.6,973.3L456.5,958.2L456.5,942.4L431.3,923L403.4,938.1ZM403.4,938.1L428.6,957.5L456.5,942.4M428.6,957.5L428.6,973.3"/>
<path class="y" d="M469.8,959.3L495,978.7L522.9,963.5L522.9,960.5L497.7,941.1L469.8,956.3ZM469.8,956.3L495,975.7L522.9,960.5M495,975.7L495,978.7"/>
<path class="y" d="M536.2,964.6L561.4,984L589.4,968.9L589.4,965.8L564.2,946.4L536.2,961.5ZM536.2,961.5L561.4,980.9L589.4,965.8M561.4,980.9L561.4,984"/>
<path class="y" d="M602.6,969.9L627.8,989.3L655.8,974.2L655.8,971L630.6,951.6L602.6,966.7ZM602.6,966.7L627.8,986.1L655.8,971M627.8,986.1L627.8,989.3"/>
<path class="y" d="M669.1,975.3L694.3,994.7L722.2,979.5L722.2,977.2L697,957.8L669.1,973ZM669.1,973L694.3,992.4L722.2,977.2M694.3,992.4L694.3,994.7"/>
<path class="y" d="M735.5,980.6L760.7,1000L788.7,984.9L788.7,965.7L763.5,946.3L735.5,961.4ZM735.5,961.4L760.7,980.8L788.7,965.7M760.7,980.8L760.7,1000"/>
<path class="y" d="M801.9,985.9L827.1,1005.3L855.1,990.2L855.1,985.4L829.9,966L801.9,981.1ZM801.9,981.1L827.1,1000.5L855.1,985.4M827.1,1000.5L827.1,1005.3"/>
<path class="y" d="M868.4,991.3L893.6,1010.7L921.5,995.5L921.5,993.6L896.3,974.2L868.4,989.3ZM868.4,989.3L893.6,1008.7L921.5,993.6M893.6,1008.7L893.6,1010.7"/>
<path class="y" d="M934.8,996.6L960,1016L987.9,1000.9L987.9,997.7L962.7,978.3L934.8,993.5ZM934.8,993.5L960,1012.9L987.9,997.7M960,1012.9L960,1016"/>
<path class="y" d="M1001.2,1001.9L1026.4,1021.3L1054.4,1006.2L1054.4,1004.5L1029.2,985.1L1001.2,1000.2ZM1001.2,1000.2L1026.4,1019.6L1054.4,1004.5M1026.4,1019.6L1026.4,1021.3"/>
<path class="y" d="M1067.7,1007.2L1092.9,1026.6L1120.8,1011.5L1120.8,1009.5L1095.6,990.1L1067.7,1005.3ZM1067.7,1005.3L1092.9,1024.7L1120.8,1009.5M1092.9,1024.7L1092.9,1026.6"/>
<path class="y" d="M434.9,978.2L460.1,997.6L488,982.5L488,977.7L462.8,958.3L434.9,973.5ZM434.9,973.5L460.1,992.9L488,977.7M460.1,992.9L460.1,997.6"/>
<path class="y" d="M501.3,983.5L526.5,1002.9L554.4,987.8L554.4,986L529.2,966.6L501.3,981.8ZM501.3,981.8L526.5,1001.2L554.4,986M526.5,1001.2L526.5,1002.9"/>
<path class="y" d="M567.7,988.9L592.9,1008.3L620.9,993.1L620.9,990.6L595.7,971.2L567.7,986.3ZM567.7,986.3L592.9,1005.7L620.9,990.6M592.9,1005.7L592.9,1008.3"/>
<path class="y" d="M634.1,994.2L659.3,1013.6L687.3,998.5L687.3,996L662.1,976.6L634.1,991.7ZM634.1,991.7L659.3,1011.1L687.3,996M659.3,1011.1L659.3,1013.6"/>
<path class="y" d="M700.6,999.5L725.8,1018.9L753.7,1003.8L753.7,1000.3L728.5,980.9L700.6,996ZM700.6,996L725.8,1015.4L753.7,1000.3M725.8,1015.4L725.8,1018.9"/>
<path class="y" d="M767,1004.8L792.2,1024.2L820.2,1009.1L820.2,1006L795,986.6L767,1001.7ZM767,1001.7L792.2,1021.1L820.2,1006M792.2,1021.1L792.2,1024.2"/>
<path class="y" d="M833.4,1010.2L858.6,1029.6L886.6,1014.4L886.6,1012L861.4,992.6L833.4,1007.7ZM833.4,1007.7L858.6,1027.1L886.6,1012M858.6,1027.1L858.6,1029.6"/>
<path class="y" d="M899.9,1015.5L925.1,1034.9L953,1019.8L953,1016.3L927.8,996.9L899.9,1012.1ZM899.9,1012.1L925.1,1031.5L953,1016.3M925.1,1031.5L925.1,1034.9"/>
<path class="y" d="M966.3,1020.8L991.5,1040.2L1019.4,1025.1L1019.4,1020.6L994.2,1001.2L966.3,1016.4ZM966.3,1016.4L991.5,1035.8L1019.4,1020.6M991.5,1035.8L991.5,1040.2"/>
<path class="y" d="M1032.7,1026.2L1057.9,1045.6L1085.9,1030.4L1085.9,1025.9L1060.7,1006.5L1032.7,1021.6ZM1032.7,1021.6L1057.9,1041L1085.9,1025.9M1057.9,1041L1057.9,1045.6"/>
<path class="y" d="M466.4,1002.4L491.6,1021.8L519.5,1006.7L519.5,1003.2L494.3,983.8L466.4,998.9ZM466.4,998.9L491.6,1018.3L519.5,1003.2M491.6,1018.3L491.6,1021.8"/>
<path class="y" d="M532.8,1007.8L558,1027.2L585.9,1012L585.9,1007.1L560.7,987.7L532.8,1002.8ZM532.8,1002.8L558,1022.2L585.9,1007.1M558,1022.2L558,1027.2"/>
<path class="y" d="M599.2,1013.1L624.4,1032.5L652.4,1017.4L652.4,1013L627.2,993.6L599.2,1008.7ZM599.2,1008.7L624.4,1028.1L652.4,1013M624.4,1028.1L624.4,1032.5"/>
<path class="y" d="M665.6,1018.4L690.8,1037.8L718.8,1022.7L718.8,1020.6L693.6,1001.2L665.6,1016.3ZM665.6,1016.3L690.8,1035.7L718.8,1020.6M690.8,1035.7L690.8,1037.8"/>
<path class="y" d="M732.1,1023.8L757.3,1043.2L785.2,1028L785.2,1024.9L760,1005.5L732.1,1020.7ZM732.1,1020.7L757.3,1040.1L785.2,1024.9M757.3,1040.1L757.3,1043.2"/>
<path class="y" d="M798.5,1029.1L823.7,1048.5L851.7,1033.4L851.7,1030.5L826.5,1011.1L798.5,1026.3ZM798.5,1026.3L823.7,1045.7L851.7,1030.5M823.7,1045.7L823.7,1048.5"/>
<path class="y" d="M864.9,1034.4L890.1,1053.8L918.1,1038.7L918.1,1034.7L892.9,1015.3L864.9,1030.5ZM864.9,1030.5L890.1,1049.9L918.1,1034.7M890.1,1049.9L890.1,1053.8"/>
<path class="y" d="M931.4,1039.8L956.6,1059.2L984.5,1044L984.5,1039.6L959.3,1020.2L931.4,1035.4ZM931.4,1035.4L956.6,1054.8L984.5,1039.6M956.6,1054.8L956.6,1059.2"/>
<path class="y" d="M997.8,1045.1L1023,1064.5L1050.9,1049.4L1050.9,1044.4L1025.7,1025L997.8,1040.1ZM997.8,1040.1L1023,1059.5L1050.9,1044.4M1023,1059.5L1023,1064.5"/>
<path class="y" d="M497.9,1026.7L523.1,1046.1L551,1031L551,1027L525.8,1007.6L497.9,1022.7ZM497.9,1022.7L523.1,1042.1L551,1027M523.1,1042.1L523.1,1046.1"/>
<path class="y" d="M564.3,1032L589.5,1051.4L617.4,1036.3L617.4,1033.9L592.2,1014.5L564.3,1029.6ZM564.3,1029.6L589.5,1049L617.4,1033.9M589.5,1049L589.5,1051.4"/>
<path class="y" d="M630.7,1037.4L655.9,1056.8L683.9,1041.6L683.9,1039.1L658.7,1019.7L630.7,1034.9ZM630.7,1034.9L655.9,1054.3L683.9,1039.1M655.9,1054.3L655.9,1056.8"/>
<path class="y" d="M697.1,1042.7L722.3,1062.1L750.3,1047L750.3,1026.6L725.1,1007.2L697.1,1022.3ZM697.1,1022.3L722.3,1041.7L750.3,1026.6M722.3,1041.7L722.3,1062.1"/>
<path class="y" d="M763.6,1048L788.8,1067.4L816.7,1052.3L816.7,1039.3L791.5,1019.9L763.6,1035ZM763.6,1035L788.8,1054.4L816.7,1039.3M788.8,1054.4L788.8,1067.4"/>
<path class="y" d="M830,1053.3L855.2,1072.7L883.2,1057.6L883.2,1048L858,1028.6L830,1043.7ZM830,1043.7L855.2,1063.1L883.2,1048M855.2,1063.1L855.2,1072.7"/>
<path class="y" d="M896.4,1058.7L921.6,1078.1L949.6,1062.9L949.6,1044.9L924.4,1025.5L896.4,1040.6ZM896.4,1040.6L921.6,1060L949.6,1044.9M921.6,1060L921.6,1078.1"/>
<path class="y" d="M962.9,1064L988.1,1083.4L1016,1068.3L1016,1047.9L990.8,1028.5L962.9,1043.7ZM962.9,1043.7L988.1,1063.1L1016,1047.9M988.1,1063.1L988.1,1083.4"/>
<path class="y" d="M529.4,1050.9L554.6,1070.3L582.5,1055.2L582.5,1052.4L557.3,1033L529.4,1048.2ZM529.4,1048.2L554.6,1067.6L582.5,1052.4M554.6,1067.6L554.6,1070.3"/>
<path class="y" d="M595.8,1056.3L621,1075.7L648.9,1060.5L648.9,1057.3L623.7,1037.9L595.8,1053.1ZM595.8,1053.1L621,1072.5L648.9,1057.3M621,1072.5L621,1075.7"/>
<path class="y" d="M662.2,1061.6L687.4,1081L715.4,1065.9L715.4,1063L690.2,1043.6L662.2,1058.7ZM662.2,1058.7L687.4,1078.1L715.4,1063M687.4,1078.1L687.4,1081"/>
<path class="y" d="M728.6,1066.9L753.8,1086.3L781.8,1071.2L781.8,1067.8L756.6,1048.4L728.6,1063.5ZM728.6,1063.5L753.8,1082.9L781.8,1067.8M753.8,1082.9L753.8,1086.3"/>
<path class="y" d="M795.1,1072.3L820.3,1091.7L848.2,1076.5L848.2,1074.3L823,1054.9L795.1,1070ZM795.1,1070L820.3,1089.4L848.2,1074.3M820.3,1089.4L820.3,1091.7"/>
<path class="y" d="M861.5,1077.6L886.7,1097L914.7,1081.9L914.7,1077.5L889.5,1058.1L861.5,1073.2ZM861.5,1073.2L886.7,1092.6L914.7,1077.5M886.7,1092.6L886.7,1097"/>
<path class="y" d="M927.9,1082.9L953.1,1102.3L981.1,1087.2L981.1,1085.1L955.9,1065.7L927.9,1080.8ZM927.9,1080.8L953.1,1100.2L981.1,1085.1M953.1,1100.2L953.1,1102.3"/>
<path class="y" d="M560.9,1075.2L586.1,1094.6L614,1079.5L614,1074.8L588.8,1055.4L560.9,1070.5ZM560.9,1070.5L586.1,1089.9L614,1074.8M586.1,1089.9L586.1,1094.6"/>
<path class="y" d="M627.3,1080.5L652.5,1099.9L680.4,1084.8L680.4,1082.2L655.2,1062.8L627.3,1077.9ZM627.3,1077.9L652.5,1097.3L680.4,1082.2M652.5,1097.3L652.5,1099.9"/>
<path class="y" d="M693.7,1085.9L718.9,1105.3L746.9,1090.1L746.9,1086.2L721.7,1066.8L693.7,1081.9ZM693.7,1081.9L718.9,1101.3L746.9,1086.2M718.9,1101.3L718.9,1105.3"/>
<path class="y" d="M760.1,1091.2L785.3,1110.6L813.3,1095.5L813.3,1091.2L788.1,1071.8L760.1,1087ZM760.1,1087L785.3,1106.4L813.3,1091.2M785.3,1106.4L785.3,1110.6"/>
<path class="y" d="M826.6,1096.5L851.8,1115.9L879.7,1100.8L879.7,1098.5L854.5,1079.1L826.6,1094.3ZM826.6,1094.3L851.8,1113.7L879.7,1098.5M851.8,1113.7L851.8,1115.9"/>
<path class="y" d="M893,1101.8L918.2,1121.2L946.2,1106.1L946.2,1104L921,1084.6L893,1099.7ZM893,1099.7L918.2,1119.1L946.2,1104M918.2,1119.1L918.2,1121.2"/>
<path class="y" d="M592.4,1099.4L617.6,1118.8L645.5,1103.7L645.5,1099.3L620.3,1079.9L592.4,1095ZM592.4,1095L617.6,1114.4L645.5,1099.3M617.6,1114.4L617.6,1118.8"/>
<path class="y" d="M658.8,1104.8L684,1124.2L711.9,1109L711.9,1104.5L686.7,1085.1L658.8,1100.3ZM658.8,1100.3L684,1119.7L711.9,1104.5M684,1119.7L684,1124.2"/>
<path class="y" d="M725.2,1110.1L750.4,1129.5L778.4,1114.4L778.4,1112.6L753.2,1093.2L725.2,1108.4ZM725.2,1108.4L750.4,1127.8L778.4,1112.6M750.4,1127.8L750.4,1129.5"/>
<path class="y" d="M791.6,1115.4L816.8,1134.8L844.8,1119.7L844.8,1115.2L819.6,1095.8L791.6,1111ZM791.6,1111L816.8,1130.4L844.8,1115.2M816.8,1130.4L816.8,1134.8"/>
<path class="y" d="M858.1,1120.8L883.3,1140.2L911.2,1125L911.2,1123.2L886,1103.8L858.1,1118.9ZM858.1,1118.9L883.3,1138.3L911.2,1123.2M883.3,1138.3L883.3,1140.2"/>
<path class="y" d="M623.9,1123.7L649.1,1143.1L677,1128L677,1123.7L651.8,1104.3L623.9,1119.5ZM623.9,1119.5L649.1,1138.9L677,1123.7M649.1,1138.9L649.1,1143.1"/>
<path class="y" d="M690.3,1129L715.5,1148.4L743.4,1133.3L743.4,1129.6L718.2,1110.2L690.3,1125.4ZM690.3,1125.4L715.5,1144.8L743.4,1129.6M715.5,1144.8L715.5,1148.4"/>
<path class="y" d="M756.7,1134.4L781.9,1153.8L809.9,1138.6L809.9,1127.3L784.7,1107.9L756.7,1123.1ZM756.7,1123.1L781.9,1142.5L809.9,1127.3M781.9,1142.5L781.9,1153.8"/>
<path class="y" d="M823.1,1139.7L848.3,1159.1L876.3,1144L876.3,1142.3L851.1,1122.9L823.1,1138ZM823.1,1138L848.3,1157.4L876.3,1142.3M848.3,1157.4L848.3,1159.1"/>
<path class="y" d="M655.4,1147.9L680.6,1167.3L708.5,1152.2L708.5,1147.5L683.3,1128.1L655.4,1143.2ZM655.4,1143.2L680.6,1162.6L708.5,1147.5M680.6,1162.6L680.6,1167.3"/>
<path class="y" d="M721.8,1153.3L747,1172.7L774.9,1157.5L774.9,1155.2L749.7,1135.8L721.8,1150.9ZM721.8,1150.9L747,1170.3L774.9,1155.2M747,1170.3L747,1172.7"/>
<path class="y" d="M788.2,1158.6L813.4,1178L841.4,1162.9L841.4,1158.5L816.2,1139.1L788.2,1154.3ZM788.2,1154.3L813.4,1173.7L841.4,1158.5M813.4,1173.7L813.4,1178"/>
<path class="y" d="M686.9,1172.2L712.1,1191.6L740,1176.5L740,1173.6L714.8,1154.2L686.9,1169.3ZM686.9,1169.3L712.1,1188.7L740,1173.6M712.1,1188.7L712.1,1191.6"/>
<path class="y" d="M753.3,1177.5L778.5,1196.9L806.4,1181.8L806.4,1163.7L781.2,1144.3L753.3,1159.4ZM753.3,1159.4L778.5,1178.8L806.4,1163.7M778.5,1178.8L778.5,1196.9"/>
<path class="y" d="M718.4,1196.4L743.6,1215.8L771.5,1200.7L771.5,1197.6L746.3,1178.2L718.4,1193.3ZM718.4,1193.3L743.6,1212.7L771.5,1197.6M743.6,1212.7L743.6,1215.8"/>
</g>
<path d="M206,829.5V434M206,829.5L741.5,1241.8L1335.3,920.1M237.5,853.8l-15.7,8.5M776.4,1222.8l13.2,10.2M269,878l-15.7,8.5M811.4,1203.9l13.2,10.2M300.5,902.2l-15.7,8.5M846.3,1185l13.2,10.2M332,926.5l-15.7,8.5M881.2,1166.1l13.2,10.2M363.5,950.8l-15.7,8.5M916.1,1147.2l13.2,10.2M395,975l-15.7,8.5M951.1,1128.2l13.2,10.2M426.5,999.2l-15.7,8.5M986,1109.3l13.2,10.2M458,1023.5l-15.7,8.5M1020.9,1090.4l13.2,10.2M489.5,1047.8l-15.7,8.5M1055.9,1071.5l13.2,10.2M521,1072l-15.7,8.5M1090.8,1052.5l13.2,10.2M552.5,1096.2l-15.7,8.5M1125.7,1033.6l13.2,10.2M584,1120.5l-15.7,8.5M1160.7,1014.7l13.2,10.2M615.5,1144.8l-15.7,8.5M1195.6,995.8l13.2,10.2M647,1169l-15.7,8.5M1230.5,976.9l13.2,10.2M678.5,1193.2l-15.7,8.5M1265.5,958l13.2,10.2M710,1217.5l-15.7,8.5M1300.4,939l13.2,10.2M206,829.5l-15,-9M206,773l-15,-9M206,716.5l-15,-9M206,660l-15,-9M206,603.5l-15,-9M206,547l-15,-9M206,490.5l-15,-9M206,434l-15,-9" fill="none" stroke="#231f20" stroke-width="2.8" stroke-linecap="butt"/>
<g font-family="Liberation Sans, Arial, sans-serif" font-size="33.5" fill="#231f20"><text x="207.5" y="900" text-anchor="end">0</text><text x="801" y="1271.7">0</text><text x="239" y="924.2" text-anchor="end">1</text><text x="836" y="1252.8">1</text><text x="270.5" y="948.5" text-anchor="end">2</text><text x="870.9" y="1233.9">2</text><text x="302" y="972.7" text-anchor="end">3</text><text x="905.8" y="1215">3</text><text x="333.5" y="997" text-anchor="end">4</text><text x="940.8" y="1196">4</text><text x="365" y="1021.2" text-anchor="end">5</text><text x="975.7" y="1177.1">5</text><text x="396.5" y="1045.4" text-anchor="end">6</text><text x="1010.6" y="1158.2">6</text><text x="428" y="1069.7" text-anchor="end">7</text><text x="1045.5" y="1139.3">7</text><text x="459.5" y="1093.9" text-anchor="end">8</text><text x="1080.5" y="1120.4">8</text><text x="491" y="1118.2" text-anchor="end">9</text><text x="1115.4" y="1101.4">9</text><text x="522.5" y="1142.4" text-anchor="end">10</text><text x="1150.3" y="1082.5">10</text><text x="554" y="1166.7" text-anchor="end">11</text><text x="1185.3" y="1063.6">11</text><text x="585.5" y="1190.9" text-anchor="end">12</text><text x="1220.2" y="1044.7">12</text><text x="617" y="1215.2" text-anchor="end">13</text><text x="1255.1" y="1025.8">13</text><text x="648.5" y="1239.4" text-anchor="end">14</text><text x="1290" y="1006.9">14</text><text x="680" y="1263.7" text-anchor="end">15</text><text x="1325" y="987.9">15</text><text x="180.9" y="825.1" text-anchor="end">0</text><text x="176.6" y="768.6" text-anchor="end">0.1</text><text x="176.6" y="712.1" text-anchor="end">0.2</text><text x="176.6" y="655.6" text-anchor="end">0.3</text><text x="176.6" y="599.1" text-anchor="end">0.4</text><text x="176.6" y="542.6" text-anchor="end">0.5</text><text x="176.6" y="486.1" text-anchor="end">0.6</text><text x="176.6" y="429.6" text-anchor="end">0.7</text></g>
<path d="M1616.4,825.6V430.1M2206.8,547.1V151.6M1651.4,806.7V411.2M2238.3,571.4V175.9M1686.3,787.7V392.2M2269.8,595.6V200.1M1721.2,768.8V373.3M2301.3,619.9V224.4M1756.2,749.9V354.4M2332.8,644.1V248.6M1791.1,731V335.5M2364.3,668.4V272.9M1826,712.1V316.6M2395.8,692.6V297.1M1860.9,693.1V297.6M2427.3,716.9V321.4M1895.9,674.2V278.7M2458.8,741.1V345.6M1930.8,655.3V259.8M2490.3,765.4V369.9M1965.7,636.4V240.9M2521.8,789.6V394.1M2000.7,617.5V222M2553.3,813.9V418.4M2035.6,598.5V203M2584.8,838.1V442.6M2070.5,579.6V184.1M2616.3,862.4V466.9M2105.4,560.7V165.2M2647.8,886.6V491.1M2140.4,541.8V146.3M2679.3,910.9V515.4" fill="none" stroke="#edf0f4" stroke-width="2.6"/>
<path d="M1581.5,844.5L2175.3,522.9L2710.8,935.1M1581.5,788L2175.3,466.4L2710.8,878.6M1581.5,731.5L2175.3,409.9L2710.8,822.1M1581.5,675L2175.3,353.4L2710.8,765.6M1581.5,618.5L2175.3,296.9L2710.8,709.1M1581.5,562L2175.3,240.4L2710.8,652.6M1581.5,505.5L2175.3,183.9L2710.8,596.1M1581.5,449L2175.3,127.4L2710.8,539.6" fill="none" stroke="#e8e8eb" stroke-width="3.2" stroke-linejoin="round"/>
<g stroke="#14200c" stroke-width="2.8" stroke-linejoin="round" stroke-linecap="round">
<path class="y" d="M2145.3,563.9L2170.5,583.3L2198.5,568.2L2198.5,564.4L2173.3,545L2145.3,560.1ZM2145.3,560.1L2170.5,579.5L2198.5,564.4M2170.5,579.5L2170.5,583.3"/>
<path class="y" d="M2110.4,582.8L2135.6,602.2L2163.5,587.1L2163.5,582.7L2138.3,563.3L2110.4,578.4ZM2110.4,578.4L2135.6,597.8L2163.5,582.7M2135.6,597.8L2135.6,602.2"/>
<path class="y" d="M2176.8,588.1L2202,607.5L2230,592.4L2230,589.5L2204.8,570.1L2176.8,585.2ZM2176.8,585.2L2202,604.6L2230,589.5M2202,604.6L2202,607.5"/>
<path class="y" d="M2075.4,601.7L2100.6,621.1L2128.6,606L2128.6,603L2103.4,583.6L2075.4,598.7ZM2075.4,598.7L2100.6,618.1L2128.6,603M2100.6,618.1L2100.6,621.1"/>
<path class="y" d="M2141.9,607.1L2167.1,626.5L2195,611.3L2195,606.5L2169.8,587.1L2141.9,602.2ZM2141.9,602.2L2167.1,621.6L2195,606.5M2167.1,621.6L2167.1,626.5"/>
<path class="y" d="M2208.3,612.4L2233.5,631.8L2261.5,616.7L2261.5,614.5L2236.3,595.1L2208.3,610.2ZM2208.3,610.2L2233.5,629.6L2261.5,614.5M2233.5,629.6L2233.5,631.8"/>
<path class="y" d="M2040.5,620.7L2065.7,640.1L2093.7,624.9L2093.7,620.6L2068.5,601.2L2040.5,616.3ZM2040.5,616.3L2065.7,635.7L2093.7,620.6M2065.7,635.7L2065.7,640.1"/>
<path class="y" d="M2106.9,626L2132.1,645.4L2160.1,630.3L2160.1,625.6L2134.9,606.2L2106.9,621.3ZM2106.9,621.3L2132.1,640.7L2160.1,625.6M2132.1,640.7L2132.1,645.4"/>
<path class="y" d="M2173.4,631.3L2198.6,650.7L2226.5,635.6L2226.5,629.9L2201.3,610.5L2173.4,625.7ZM2173.4,625.7L2198.6,645.1L2226.5,629.9M2198.6,645.1L2198.6,650.7"/>
<path class="y" d="M2239.8,636.6L2265,656L2293,640.9L2293,639.1L2267.8,619.7L2239.8,634.8ZM2239.8,634.8L2265,654.2L2293,639.1M2265,654.2L2265,656"/>
<path class="y" d="M2005.6,639.6L2030.8,659L2058.7,643.8L2058.7,640.1L2033.5,620.7L2005.6,635.8ZM2005.6,635.8L2030.8,655.2L2058.7,640.1M2030.8,655.2L2030.8,659"/>
<path class="y" d="M2072,644.9L2097.2,664.3L2125.2,649.2L2125.2,646L2100,626.6L2072,641.7ZM2072,641.7L2097.2,661.1L2125.2,646M2097.2,661.1L2097.2,664.3"/>
<path class="y" d="M2138.4,650.2L2163.6,669.6L2191.6,654.5L2191.6,650.8L2166.4,631.4L2138.4,646.6ZM2138.4,646.6L2163.6,666L2191.6,650.8M2163.6,666L2163.6,669.6"/>
<path class="y" d="M2204.9,655.6L2230.1,675L2258,659.8L2258,655.4L2232.8,636L2204.9,651.2ZM2204.9,651.2L2230.1,670.6L2258,655.4M2230.1,670.6L2230.1,675"/>
<path class="y" d="M2271.3,660.9L2296.5,680.3L2324.5,665.2L2324.5,662.1L2299.3,642.7L2271.3,657.8ZM2271.3,657.8L2296.5,677.2L2324.5,662.1M2296.5,677.2L2296.5,680.3"/>
<path class="y" d="M1970.7,658.5L1995.9,677.9L2023.8,662.8L2023.8,659.8L1998.6,640.4L1970.7,655.6ZM1970.7,655.6L1995.9,675L2023.8,659.8M1995.9,675L1995.9,677.9"/>
<path class="y" d="M2037.1,663.8L2062.3,683.2L2090.2,668.1L2090.2,665L2065,645.6L2037.1,660.7ZM2037.1,660.7L2062.3,680.1L2090.2,665M2062.3,680.1L2062.3,683.2"/>
<path class="y" d="M2103.5,669.2L2128.7,688.6L2156.7,673.4L2156.7,671.4L2131.5,652L2103.5,667.1ZM2103.5,667.1L2128.7,686.5L2156.7,671.4M2128.7,686.5L2128.7,688.6"/>
<path class="y" d="M2169.9,674.5L2195.1,693.9L2223.1,678.8L2223.1,667.5L2197.9,648.1L2169.9,663.2ZM2169.9,663.2L2195.1,682.6L2223.1,667.5M2195.1,682.6L2195.1,693.9"/>
<path class="y" d="M2236.4,679.8L2261.6,699.2L2289.5,684.1L2289.5,679.8L2264.3,660.4L2236.4,675.6ZM2236.4,675.6L2261.6,695L2289.5,679.8M2261.6,695L2261.6,699.2"/>
<path class="y" d="M2302.8,685.1L2328,704.5L2356,689.4L2356,685.5L2330.8,666.1L2302.8,681.2ZM2302.8,681.2L2328,700.6L2356,685.5M2328,700.6L2328,704.5"/>
<path class="y" d="M1935.7,677.4L1960.9,696.8L1988.9,681.7L1988.9,679.4L1963.7,660L1935.7,675.1ZM1935.7,675.1L1960.9,694.5L1988.9,679.4M1960.9,694.5L1960.9,696.8"/>
<path class="y" d="M2002.2,682.7L2027.4,702.1L2055.3,687L2055.3,685.1L2030.1,665.7L2002.2,680.8ZM2002.2,680.8L2027.4,700.2L2055.3,685.1M2027.4,700.2L2027.4,702.1"/>
<path class="y" d="M2068.6,688.1L2093.8,707.5L2121.7,692.3L2121.7,688.7L2096.5,669.3L2068.6,684.5ZM2068.6,684.5L2093.8,703.9L2121.7,688.7M2093.8,703.9L2093.8,707.5"/>
<path class="y" d="M2135,693.4L2160.2,712.8L2188.2,697.7L2188.2,692.8L2163,673.4L2135,688.5ZM2135,688.5L2160.2,707.9L2188.2,692.8M2160.2,707.9L2160.2,712.8"/>
<path class="y" d="M2201.4,698.7L2226.6,718.1L2254.6,703L2254.6,699.2L2229.4,679.8L2201.4,695ZM2201.4,695L2226.6,714.4L2254.6,699.2M2226.6,714.4L2226.6,718.1"/>
<path class="y" d="M2267.9,704.1L2293.1,723.5L2321,708.3L2321,705L2295.8,685.6L2267.9,700.7ZM2267.9,700.7L2293.1,720.1L2321,705M2293.1,720.1L2293.1,723.5"/>
<path class="y" d="M2334.3,709.4L2359.5,728.8L2387.5,713.7L2387.5,708.7L2362.3,689.3L2334.3,704.5ZM2334.3,704.5L2359.5,723.9L2387.5,708.7M2359.5,723.9L2359.5,728.8"/>
<path class="y" d="M1900.8,696.3L1926,715.7L1953.9,700.6L1953.9,698.6L1928.7,679.2L1900.8,694.4ZM1900.8,694.4L1926,713.8L1953.9,698.6M1926,713.8L1926,715.7"/>
<path class="y" d="M1967.2,701.7L1992.4,721.1L2020.4,705.9L2020.4,701.9L1995.2,682.5L1967.2,697.6ZM1967.2,697.6L1992.4,717L2020.4,701.9M1992.4,717L1992.4,721.1"/>
<path class="y" d="M2033.7,707L2058.9,726.4L2086.8,711.3L2086.8,707.1L2061.6,687.7L2033.7,702.8ZM2033.7,702.8L2058.9,722.2L2086.8,707.1M2058.9,722.2L2058.9,726.4"/>
<path class="y" d="M2100.1,712.3L2125.3,731.7L2153.2,716.6L2153.2,712.1L2128,692.7L2100.1,707.8ZM2100.1,707.8L2125.3,727.2L2153.2,712.1M2125.3,727.2L2125.3,731.7"/>
<path class="y" d="M2166.5,717.7L2191.7,737.1L2219.7,721.9L2219.7,719.4L2194.5,700L2166.5,715.1ZM2166.5,715.1L2191.7,734.5L2219.7,719.4M2191.7,734.5L2191.7,737.1"/>
<path class="y" d="M2232.9,723L2258.1,742.4L2286.1,727.3L2286.1,723.8L2260.9,704.4L2232.9,719.5ZM2232.9,719.5L2258.1,738.9L2286.1,723.8M2258.1,738.9L2258.1,742.4"/>
<path class="y" d="M2299.4,728.3L2324.6,747.7L2352.5,732.6L2352.5,658.6L2327.3,639.2L2299.4,654.3ZM2299.4,654.3L2324.6,673.7L2352.5,658.6M2324.6,673.7L2324.6,747.7"/>
<path class="y" d="M2365.8,733.6L2391,753L2419,737.9L2419,608L2393.8,588.6L2365.8,603.7ZM2365.8,603.7L2391,623.1L2419,608M2391,623.1L2391,753"/>
<path class="y" d="M1865.9,715.3L1891.1,734.7L1919,719.5L1919,716.5L1893.8,697.1L1865.9,712.3ZM1865.9,712.3L1891.1,731.7L1919,716.5M1891.1,731.7L1891.1,734.7"/>
<path class="y" d="M1932.3,720.6L1957.5,740L1985.4,724.9L1985.4,721.3L1960.2,701.9L1932.3,717.1ZM1932.3,717.1L1957.5,736.5L1985.4,721.3M1957.5,736.5L1957.5,740"/>
<path class="y" d="M1998.7,725.9L2023.9,745.3L2051.9,730.2L2051.9,726.2L2026.7,706.8L1998.7,722ZM1998.7,722L2023.9,741.4L2051.9,726.2M2023.9,741.4L2023.9,745.3"/>
<path class="y" d="M2065.2,731.2L2090.4,750.6L2118.3,735.5L2118.3,701.6L2093.1,682.2L2065.2,697.3ZM2065.2,697.3L2090.4,716.7L2118.3,701.6M2090.4,716.7L2090.4,750.6"/>
<path class="y" d="M2131.6,736.6L2156.8,756L2184.7,740.8L2184.7,738.5L2159.5,719.1L2131.6,734.3ZM2131.6,734.3L2156.8,753.7L2184.7,738.5M2156.8,753.7L2156.8,756"/>
<path class="y" d="M2198,741.9L2223.2,761.3L2251.2,746.2L2251.2,742.2L2226,722.8L2198,738ZM2198,738L2223.2,757.4L2251.2,742.2M2223.2,757.4L2223.2,761.3"/>
<path class="y" d="M2264.4,747.2L2289.6,766.6L2317.6,751.5L2317.6,709.7L2292.4,690.3L2264.4,705.4ZM2264.4,705.4L2289.6,724.8L2317.6,709.7M2289.6,724.8L2289.6,766.6"/>
<path class="g" d="M2330.9,752.6L2356.1,772L2384,756.8L2384,529.1L2358.8,509.7L2330.9,524.9ZM2330.9,524.9L2356.1,544.3L2384,529.1M2356.1,544.3L2356.1,772"/>
<path class="y" d="M2397.3,757.9L2422.5,777.3L2450.5,762.2L2450.5,758L2425.3,738.6L2397.3,753.8ZM2397.3,753.8L2422.5,773.2L2450.5,758M2422.5,773.2L2422.5,777.3"/>
<path class="y" d="M1830.9,734.2L1856.1,753.6L1884.1,738.4L1884.1,734.3L1858.9,714.9L1830.9,730.1ZM1830.9,730.1L1856.1,749.5L1884.1,734.3M1856.1,749.5L1856.1,753.6"/>
<path class="y" d="M1897.4,739.5L1922.6,758.9L1950.5,743.8L1950.5,741.2L1925.3,721.8L1897.4,737ZM1897.4,737L1922.6,756.4L1950.5,741.2M1922.6,756.4L1922.6,758.9"/>
<path class="y" d="M1963.8,744.8L1989,764.2L2016.9,749.1L2016.9,744.7L1991.7,725.3L1963.8,740.4ZM1963.8,740.4L1989,759.8L2016.9,744.7M1989,759.8L1989,764.2"/>
<path class="y" d="M2030.2,750.2L2055.4,769.6L2083.4,754.4L2083.4,749.9L2058.2,730.5L2030.2,745.6ZM2030.2,745.6L2055.4,765L2083.4,749.9M2055.4,765L2055.4,769.6"/>
<path class="y" d="M2096.7,755.5L2121.9,774.9L2149.8,759.8L2149.8,703.3L2124.6,683.9L2096.7,699ZM2096.7,699L2121.9,718.4L2149.8,703.3M2121.9,718.4L2121.9,774.9"/>
<path class="y" d="M2163.1,760.8L2188.3,780.2L2216.2,765.1L2216.2,701.2L2191,681.8L2163.1,697ZM2163.1,697L2188.3,716.4L2216.2,701.2M2188.3,716.4L2188.3,780.2"/>
<path class="g" d="M2229.5,766.2L2254.7,785.6L2282.7,770.4L2282.7,462.5L2257.5,443.1L2229.5,458.2ZM2229.5,458.2L2254.7,477.6L2282.7,462.5M2254.7,477.6L2254.7,785.6"/>
<path class="y" d="M2295.9,771.5L2321.1,790.9L2349.1,775.8L2349.1,771.5L2323.9,752.1L2295.9,767.2ZM2295.9,767.2L2321.1,786.6L2349.1,771.5M2321.1,786.6L2321.1,790.9"/>
<path class="y" d="M2362.4,776.8L2387.6,796.2L2415.5,781.1L2415.5,778.6L2390.3,759.2L2362.4,774.3ZM2362.4,774.3L2387.6,793.7L2415.5,778.6M2387.6,793.7L2387.6,796.2"/>
<path class="y" d="M2428.8,782.1L2454,801.5L2482,786.4L2482,784.4L2456.8,765L2428.8,780.2ZM2428.8,780.2L2454,799.6L2482,784.4M2454,799.6L2454,801.5"/>
<path class="y" d="M1796,753.1L1821.2,772.5L1849.2,757.4L1849.2,753.8L1824,734.4L1796,749.5ZM1796,749.5L1821.2,768.9L1849.2,753.8M1821.2,768.9L1821.2,772.5"/>
<path class="y" d="M1862.4,758.4L1887.6,777.8L1915.6,762.7L1915.6,759.4L1890.4,740L1862.4,755.2ZM1862.4,755.2L1887.6,774.6L1915.6,759.4M1887.6,774.6L1887.6,777.8"/>
<path class="y" d="M1928.9,763.8L1954.1,783.2L1982,768L1982,763.3L1956.8,743.9L1928.9,759.1ZM1928.9,759.1L1954.1,778.5L1982,763.3M1954.1,778.5L1954.1,783.2"/>
<path class="y" d="M1995.3,769.1L2020.5,788.5L2048.4,773.4L2048.4,771.3L2023.2,751.9L1995.3,767ZM1995.3,767L2020.5,786.4L2048.4,771.3M2020.5,786.4L2020.5,788.5"/>
<path class="y" d="M2061.7,774.4L2086.9,793.8L2114.9,778.7L2114.9,774.2L2089.7,754.8L2061.7,769.9ZM2061.7,769.9L2086.9,789.3L2114.9,774.2M2086.9,789.3L2086.9,793.8"/>
<path class="g" d="M2128.2,779.7L2153.4,799.1L2181.3,784L2181.3,506.6L2156.1,487.2L2128.2,502.3ZM2128.2,502.3L2153.4,521.7L2181.3,506.6M2153.4,521.7L2153.4,799.1"/>
<path class="y" d="M2194.6,785.1L2219.8,804.5L2247.7,789.3L2247.7,785.7L2222.5,766.3L2194.6,781.4ZM2194.6,781.4L2219.8,800.8L2247.7,785.7M2219.8,800.8L2219.8,804.5"/>
<path class="y" d="M2261,790.4L2286.2,809.8L2314.2,794.7L2314.2,791.9L2289,772.5L2261,787.6ZM2261,787.6L2286.2,807L2314.2,791.9M2286.2,807L2286.2,809.8"/>
<path class="y" d="M2327.4,795.7L2352.6,815.1L2380.6,800L2380.6,797.5L2355.4,778.1L2327.4,793.3ZM2327.4,793.3L2352.6,812.7L2380.6,797.5M2352.6,812.7L2352.6,815.1"/>
<path class="y" d="M2393.9,801.1L2419.1,820.5L2447,805.3L2447,801.2L2421.8,781.8L2393.9,796.9ZM2393.9,796.9L2419.1,816.3L2447,801.2M2419.1,816.3L2419.1,820.5"/>
<path class="y" d="M2460.3,806.4L2485.5,825.8L2513.5,810.7L2513.5,808.6L2488.3,789.2L2460.3,804.3ZM2460.3,804.3L2485.5,823.7L2513.5,808.6M2485.5,823.7L2485.5,825.8"/>
<path class="y" d="M1761.1,772L1786.3,791.4L1814.2,776.3L1814.2,774.2L1789,754.8L1761.1,769.9ZM1761.1,769.9L1786.3,789.3L1814.2,774.2M1786.3,789.3L1786.3,791.4"/>
<path class="y" d="M1827.5,777.3L1852.7,796.7L1880.7,781.6L1880.7,777.5L1855.5,758.1L1827.5,773.3ZM1827.5,773.3L1852.7,792.7L1880.7,777.5M1852.7,792.7L1852.7,796.7"/>
<path class="y" d="M1893.9,782.7L1919.1,802.1L1947.1,786.9L1947.1,702.2L1921.9,682.8L1893.9,697.9ZM1893.9,697.9L1919.1,717.3L1947.1,702.2M1919.1,717.3L1919.1,802.1"/>
<path class="y" d="M1960.4,788L1985.6,807.4L2013.5,792.3L2013.5,695.7L1988.3,676.3L1960.4,691.4ZM1960.4,691.4L1985.6,710.8L2013.5,695.7M1985.6,710.8L1985.6,807.4"/>
<path class="g" d="M2026.8,793.3L2052,812.7L2079.9,797.6L2079.9,486.9L2054.7,467.5L2026.8,482.6ZM2026.8,482.6L2052,502L2079.9,486.9M2052,502L2052,812.7"/>
<path class="y" d="M2093.2,798.7L2118.4,818.1L2146.4,802.9L2146.4,800.7L2121.2,781.3L2093.2,796.4ZM2093.2,796.4L2118.4,815.8L2146.4,800.7M2118.4,815.8L2118.4,818.1"/>
<path class="y" d="M2159.7,804L2184.9,823.4L2212.8,808.3L2212.8,805.9L2187.6,786.5L2159.7,801.6ZM2159.7,801.6L2184.9,821L2212.8,805.9M2184.9,821L2184.9,823.4"/>
<path class="y" d="M2226.1,809.3L2251.3,828.7L2279.2,813.6L2279.2,810.7L2254,791.3L2226.1,806.4ZM2226.1,806.4L2251.3,825.8L2279.2,810.7M2251.3,825.8L2251.3,828.7"/>
<path class="y" d="M2292.5,814.7L2317.7,834.1L2345.7,818.9L2345.7,815.6L2320.5,796.2L2292.5,811.4ZM2292.5,811.4L2317.7,830.8L2345.7,815.6M2317.7,830.8L2317.7,834.1"/>
<path class="y" d="M2358.9,820L2384.1,839.4L2412.1,824.3L2412.1,821.1L2386.9,801.7L2358.9,816.9ZM2358.9,816.9L2384.1,836.3L2412.1,821.1M2384.1,836.3L2384.1,839.4"/>
<path class="y" d="M2425.4,825.3L2450.6,844.7L2478.5,829.6L2478.5,826L2453.3,806.6L2425.4,821.8ZM2425.4,821.8L2450.6,841.2L2478.5,826M2450.6,841.2L2450.6,844.7"/>
<path class="y" d="M2491.8,830.6L2517,850L2545,834.9L2545,830.7L2519.8,811.3L2491.8,826.4ZM2491.8,826.4L2517,845.8L2545,830.7M2517,845.8L2517,850"/>
<path class="y" d="M1726.1,790.9L1751.3,810.3L1779.3,795.2L1779.3,792.4L1754.1,773L1726.1,788.1ZM1726.1,788.1L1751.3,807.5L1779.3,792.4M1751.3,807.5L1751.3,810.3"/>
<path class="y" d="M1792.6,796.3L1817.8,815.7L1845.7,800.5L1845.7,727.1L1820.5,707.7L1792.6,722.8ZM1792.6,722.8L1817.8,742.2L1845.7,727.1M1817.8,742.2L1817.8,815.7"/>
<path class="y" d="M1859,801.6L1884.2,821L1912.2,805.9L1912.2,761.2L1887,741.8L1859,757ZM1859,757L1884.2,776.4L1912.2,761.2M1884.2,776.4L1884.2,821"/>
<path class="g" d="M1925.4,806.9L1950.6,826.3L1978.6,811.2L1978.6,510.6L1953.4,491.2L1925.4,506.3ZM1925.4,506.3L1950.6,525.7L1978.6,510.6M1950.6,525.7L1950.6,826.3"/>
<path class="y" d="M1991.9,812.3L2017.1,831.7L2045,816.5L2045,813.8L2019.8,794.4L1991.9,809.5ZM1991.9,809.5L2017.1,828.9L2045,813.8M2017.1,828.9L2017.1,831.7"/>
<path class="y" d="M2058.3,817.6L2083.5,837L2111.4,821.9L2111.4,799.3L2086.2,779.9L2058.3,795ZM2058.3,795L2083.5,814.4L2111.4,799.3M2083.5,814.4L2083.5,837"/>
<path class="y" d="M2124.7,822.9L2149.9,842.3L2177.9,827.2L2177.9,824.6L2152.7,805.2L2124.7,820.3ZM2124.7,820.3L2149.9,839.7L2177.9,824.6M2149.9,839.7L2149.9,842.3"/>
<path class="y" d="M2191.2,828.2L2216.4,847.6L2244.3,832.5L2244.3,830.3L2219.1,810.9L2191.2,826ZM2191.2,826L2216.4,845.4L2244.3,830.3M2216.4,845.4L2216.4,847.6"/>
<path class="y" d="M2257.6,833.6L2282.8,853L2310.7,837.8L2310.7,832.9L2285.5,813.5L2257.6,828.6ZM2257.6,828.6L2282.8,848L2310.7,832.9M2282.8,848L2282.8,853"/>
<path class="y" d="M2324,838.9L2349.2,858.3L2377.2,843.2L2377.2,840.4L2352,821L2324,836.1ZM2324,836.1L2349.2,855.5L2377.2,840.4M2349.2,855.5L2349.2,858.3"/>
<path class="y" d="M2390.4,844.2L2415.6,863.6L2443.6,848.5L2443.6,845.5L2418.4,826.1L2390.4,841.2ZM2390.4,841.2L2415.6,860.6L2443.6,845.5M2415.6,860.6L2415.6,863.6"/>
<path class="y" d="M2456.9,849.6L2482.1,869L2510,853.8L2510,851.2L2484.8,831.8L2456.9,847ZM2456.9,847L2482.1,866.4L2510,851.2M2482.1,866.4L2482.1,869"/>
<path class="y" d="M2523.3,854.9L2548.5,874.3L2576.5,859.2L2576.5,857.1L2551.3,837.7L2523.3,852.8ZM2523.3,852.8L2548.5,872.2L2576.5,857.1M2548.5,872.2L2548.5,874.3"/>
<path class="y" d="M1691.2,809.9L1716.4,829.3L1744.4,814.1L1744.4,766.7L1719.2,747.3L1691.2,762.4ZM1691.2,762.4L1716.4,781.8L1744.4,766.7M1716.4,781.8L1716.4,829.3"/>
<path class="y" d="M1757.6,815.2L1782.8,834.6L1810.8,819.5L1810.8,731.9L1785.6,712.5L1757.6,727.6ZM1757.6,727.6L1782.8,747L1810.8,731.9M1782.8,747L1782.8,834.6"/>
<path class="g" d="M1824.1,820.5L1849.3,839.9L1877.2,824.8L1877.2,575.6L1852,556.2L1824.1,571.4ZM1824.1,571.4L1849.3,590.8L1877.2,575.6M1849.3,590.8L1849.3,839.9"/>
<path class="y" d="M1890.5,825.8L1915.7,845.2L1943.7,830.1L1943.7,827.8L1918.5,808.4L1890.5,823.5ZM1890.5,823.5L1915.7,842.9L1943.7,827.8M1915.7,842.9L1915.7,845.2"/>
<path class="y" d="M1956.9,831.2L1982.1,850.6L2010.1,835.4L2010.1,833.5L1984.9,814.1L1956.9,829.3ZM1956.9,829.3L1982.1,848.7L2010.1,833.5M1982.1,848.7L1982.1,850.6"/>
<path class="y" d="M2023.4,836.5L2048.6,855.9L2076.5,840.8L2076.5,837.7L2051.3,818.3L2023.4,833.4ZM2023.4,833.4L2048.6,852.8L2076.5,837.7M2048.6,852.8L2048.6,855.9"/>
<path class="y" d="M2089.8,841.8L2115,861.2L2142.9,846.1L2142.9,843.8L2117.7,824.4L2089.8,839.5ZM2089.8,839.5L2115,858.9L2142.9,843.8M2115,858.9L2115,861.2"/>
<path class="y" d="M2156.2,847.2L2181.4,866.6L2209.4,851.4L2209.4,848.4L2184.2,829L2156.2,844.2ZM2156.2,844.2L2181.4,863.6L2209.4,848.4M2181.4,863.6L2181.4,866.6"/>
<path class="y" d="M2222.7,852.5L2247.9,871.9L2275.8,856.8L2275.8,852.6L2250.6,833.2L2222.7,848.3ZM2222.7,848.3L2247.9,867.7L2275.8,852.6M2247.9,867.7L2247.9,871.9"/>
<path class="y" d="M2289.1,857.8L2314.3,877.2L2342.2,862.1L2342.2,857.5L2317,838.1L2289.1,853.2ZM2289.1,853.2L2314.3,872.6L2342.2,857.5M2314.3,872.6L2314.3,877.2"/>
<path class="y" d="M2355.5,863.2L2380.7,882.6L2408.7,867.4L2408.7,862.5L2383.5,843.1L2355.5,858.2ZM2355.5,858.2L2380.7,877.6L2408.7,862.5M2380.7,877.6L2380.7,882.6"/>
<path class="y" d="M2421.9,868.5L2447.1,887.9L2475.1,872.8L2475.1,868.3L2449.9,848.9L2421.9,864.1ZM2421.9,864.1L2447.1,883.5L2475.1,868.3M2447.1,883.5L2447.1,887.9"/>
<path class="y" d="M2488.4,873.8L2513.6,893.2L2541.5,878.1L2541.5,874.2L2516.3,854.8L2488.4,869.9ZM2488.4,869.9L2513.6,889.3L2541.5,874.2M2513.6,889.3L2513.6,893.2"/>
<path class="y" d="M2554.8,879.1L2580,898.5L2608,883.4L2608,880.5L2582.8,861.1L2554.8,876.2ZM2554.8,876.2L2580,895.6L2608,880.5M2580,895.6L2580,898.5"/>
<path class="y" d="M1656.3,828.8L1681.5,848.2L1709.4,833L1709.4,815.5L1684.2,796.1L1656.3,811.3ZM1656.3,811.3L1681.5,830.7L1709.4,815.5M1681.5,830.7L1681.5,848.2"/>
<path class="g" d="M1722.7,834.1L1747.9,853.5L1775.9,838.4L1775.9,526.5L1750.7,507.1L1722.7,522.2ZM1722.7,522.2L1747.9,541.6L1775.9,526.5M1747.9,541.6L1747.9,853.5"/>
<path class="y" d="M1789.1,839.4L1814.3,858.8L1842.3,843.7L1842.3,840.4L1817.1,821L1789.1,836.2ZM1789.1,836.2L1814.3,855.6L1842.3,840.4M1814.3,855.6L1814.3,858.8"/>
<path class="y" d="M1855.6,844.8L1880.8,864.2L1908.7,849L1908.7,825.9L1883.5,806.5L1855.6,821.6ZM1855.6,821.6L1880.8,841L1908.7,825.9M1880.8,841L1880.8,864.2"/>
<path class="y" d="M1922,850.1L1947.2,869.5L1975.2,854.4L1975.2,849.5L1950,830.1L1922,845.2ZM1922,845.2L1947.2,864.6L1975.2,849.5M1947.2,864.6L1947.2,869.5"/>
<path class="y" d="M1988.4,855.4L2013.6,874.8L2041.6,859.7L2041.6,854.7L2016.4,835.3L1988.4,850.5ZM1988.4,850.5L2013.6,869.9L2041.6,854.7M2013.6,869.9L2013.6,874.8"/>
<path class="y" d="M2054.9,860.8L2080.1,880.2L2108,865L2108,860.9L2082.8,841.5L2054.9,856.6ZM2054.9,856.6L2080.1,876L2108,860.9M2080.1,876L2080.1,880.2"/>
<path class="y" d="M2121.3,866.1L2146.5,885.5L2174.4,870.4L2174.4,867L2149.2,847.6L2121.3,862.8ZM2121.3,862.8L2146.5,882.2L2174.4,867M2146.5,882.2L2146.5,885.5"/>
<path class="y" d="M2187.7,871.4L2212.9,890.8L2240.9,875.7L2240.9,872.6L2215.7,853.2L2187.7,868.4ZM2187.7,868.4L2212.9,887.8L2240.9,872.6M2212.9,887.8L2212.9,890.8"/>
<path class="y" d="M2254.2,876.7L2279.4,896.1L2307.3,881L2307.3,878.5L2282.1,859.1L2254.2,874.2ZM2254.2,874.2L2279.4,893.6L2307.3,878.5M2279.4,893.6L2279.4,896.1"/>
<path class="y" d="M2320.6,882.1L2345.8,901.5L2373.7,886.3L2373.7,882.7L2348.5,863.3L2320.6,878.4ZM2320.6,878.4L2345.8,897.8L2373.7,882.7M2345.8,897.8L2345.8,901.5"/>
<path class="y" d="M2387,887.4L2412.2,906.8L2440.2,891.7L2440.2,887.8L2415,868.4L2387,883.5ZM2387,883.5L2412.2,902.9L2440.2,887.8M2412.2,902.9L2412.2,906.8"/>
<path class="y" d="M2453.4,892.7L2478.6,912.1L2506.6,897L2506.6,892.3L2481.4,872.9L2453.4,888ZM2453.4,888L2478.6,907.4L2506.6,892.3M2478.6,907.4L2478.6,912.1"/>
<path class="y" d="M2519.9,898.1L2545.1,917.5L2573,902.3L2573,898.2L2547.8,878.8L2519.9,893.9ZM2519.9,893.9L2545.1,913.3L2573,898.2M2545.1,913.3L2545.1,917.5"/>
<path class="y" d="M2586.3,903.4L2611.5,922.8L2639.5,907.7L2639.5,905.1L2614.3,885.7L2586.3,900.8ZM2586.3,900.8L2611.5,920.2L2639.5,905.1M2611.5,920.2L2611.5,922.8"/>
<path class="g" d="M1621.4,847.7L1646.6,867.1L1674.5,852L1674.5,547.4L1649.3,528L1621.4,543.2ZM1621.4,543.2L1646.6,562.6L1674.5,547.4M1646.6,562.6L1646.6,867.1"/>
<path class="y" d="M1687.8,853L1713,872.4L1740.9,857.3L1740.9,844.9L1715.7,825.5L1687.8,840.6ZM1687.8,840.6L1713,860L1740.9,844.9M1713,860L1713,872.4"/>
<path class="y" d="M1754.2,858.4L1779.4,877.8L1807.4,862.6L1807.4,851.3L1782.2,831.9L1754.2,847.1ZM1754.2,847.1L1779.4,866.5L1807.4,851.3M1779.4,866.5L1779.4,877.8"/>
<path class="y" d="M1820.6,863.7L1845.8,883.1L1873.8,868L1873.8,851.6L1848.6,832.2L1820.6,847.3ZM1820.6,847.3L1845.8,866.7L1873.8,851.6M1845.8,866.7L1845.8,883.1"/>
<path class="y" d="M1887.1,869L1912.3,888.4L1940.2,873.3L1940.2,869L1915,849.6L1887.1,864.8ZM1887.1,864.8L1912.3,884.2L1940.2,869M1912.3,884.2L1912.3,888.4"/>
<path class="y" d="M1953.5,874.3L1978.7,893.7L2006.7,878.6L2006.7,875.2L1981.5,855.8L1953.5,871ZM1953.5,871L1978.7,890.4L2006.7,875.2M1978.7,890.4L1978.7,893.7"/>
<path class="y" d="M2019.9,879.7L2045.1,899.1L2073.1,883.9L2073.1,880.7L2047.9,861.3L2019.9,876.5ZM2019.9,876.5L2045.1,895.9L2073.1,880.7M2045.1,895.9L2045.1,899.1"/>
<path class="y" d="M2086.4,885L2111.6,904.4L2139.5,889.3L2139.5,887.5L2114.3,868.1L2086.4,883.3ZM2086.4,883.3L2111.6,902.7L2139.5,887.5M2111.6,902.7L2111.6,904.4"/>
<path class="y" d="M2152.8,890.3L2178,909.7L2205.9,894.6L2205.9,885L2180.7,865.6L2152.8,880.7ZM2152.8,880.7L2178,900.1L2205.9,885M2178,900.1L2178,909.7"/>
<path class="y" d="M2219.2,895.7L2244.4,915.1L2272.4,899.9L2272.4,895.2L2247.2,875.8L2219.2,890.9ZM2219.2,890.9L2244.4,910.3L2272.4,895.2M2244.4,910.3L2244.4,915.1"/>
<path class="y" d="M2285.7,901L2310.9,920.4L2338.8,905.3L2338.8,902.8L2313.6,883.4L2285.7,898.6ZM2285.7,898.6L2310.9,918L2338.8,902.8M2310.9,918L2310.9,920.4"/>
<path class="y" d="M2352.1,906.3L2377.3,925.7L2405.2,910.6L2405.2,906.6L2380,887.2L2352.1,902.3ZM2352.1,902.3L2377.3,921.7L2405.2,906.6M2377.3,921.7L2377.3,925.7"/>
<path class="y" d="M2418.5,911.7L2443.7,931.1L2471.7,915.9L2471.7,913.6L2446.5,894.2L2418.5,909.3ZM2418.5,909.3L2443.7,928.7L2471.7,913.6M2443.7,928.7L2443.7,931.1"/>
<path class="y" d="M2484.9,917L2510.1,936.4L2538.1,921.3L2538.1,917.7L2512.9,898.3L2484.9,913.4ZM2484.9,913.4L2510.1,932.8L2538.1,917.7M2510.1,932.8L2510.1,936.4"/>
<path class="y" d="M2551.4,922.3L2576.6,941.7L2604.5,926.6L2604.5,924.5L2579.3,905.1L2551.4,920.2ZM2551.4,920.2L2576.6,939.6L2604.5,924.5M2576.6,939.6L2576.6,941.7"/>
<path class="g" d="M2617.8,927.6L2643,947L2671,931.9L2671,695.7L2645.8,676.3L2617.8,691.5ZM2617.8,691.5L2643,710.9L2671,695.7M2643,710.9L2643,947"/>
<path class="y" d="M1652.9,871.9L1678.1,891.3L1706,876.2L1706,864.3L1680.8,844.9L1652.9,860.1ZM1652.9,860.1L1678.1,879.5L1706,864.3M1678.1,879.5L1678.1,891.3"/>
<path class="y" d="M1719.3,877.3L1744.5,896.7L1772.4,881.5L1772.4,870.8L1747.2,851.4L1719.3,866.5ZM1719.3,866.5L1744.5,885.9L1772.4,870.8M1744.5,885.9L1744.5,896.7"/>
<path class="y" d="M1785.7,882.6L1810.9,902L1838.9,886.9L1838.9,884.8L1813.7,865.4L1785.7,880.6ZM1785.7,880.6L1810.9,900L1838.9,884.8M1810.9,900L1810.9,902"/>
<path class="y" d="M1852.1,887.9L1877.3,907.3L1905.3,892.2L1905.3,890.2L1880.1,870.8L1852.1,885.9ZM1852.1,885.9L1877.3,905.3L1905.3,890.2M1877.3,905.3L1877.3,907.3"/>
<path class="y" d="M1918.6,893.3L1943.8,912.7L1971.7,897.5L1971.7,895.6L1946.5,876.2L1918.6,891.3ZM1918.6,891.3L1943.8,910.7L1971.7,895.6M1943.8,910.7L1943.8,912.7"/>
<path class="y" d="M1985,898.6L2010.2,918L2038.2,902.9L2038.2,899.4L2013,880L1985,895.2ZM1985,895.2L2010.2,914.6L2038.2,899.4M2010.2,914.6L2010.2,918"/>
<path class="y" d="M2051.4,903.9L2076.6,923.3L2104.6,908.2L2104.6,885.6L2079.4,866.2L2051.4,881.3ZM2051.4,881.3L2076.6,900.7L2104.6,885.6M2076.6,900.7L2076.6,923.3"/>
<path class="y" d="M2117.9,909.3L2143.1,928.7L2171,913.5L2171,909.4L2145.8,890L2117.9,905.1ZM2117.9,905.1L2143.1,924.5L2171,909.4M2143.1,924.5L2143.1,928.7"/>
<path class="y" d="M2184.3,914.6L2209.5,934L2237.4,918.9L2237.4,914.2L2212.2,894.8L2184.3,910ZM2184.3,910L2209.5,929.4L2237.4,914.2M2209.5,929.4L2209.5,934"/>
<path class="y" d="M2250.7,919.9L2275.9,939.3L2303.9,924.2L2303.9,920.8L2278.7,901.4L2250.7,916.6ZM2250.7,916.6L2275.9,936L2303.9,920.8M2275.9,936L2275.9,939.3"/>
<path class="y" d="M2317.2,925.2L2342.4,944.6L2370.3,929.5L2370.3,926.8L2345.1,907.4L2317.2,922.5ZM2317.2,922.5L2342.4,941.9L2370.3,926.8M2342.4,941.9L2342.4,944.6"/>
<path class="y" d="M2383.6,930.6L2408.8,950L2436.7,934.8L2436.7,931L2411.5,911.6L2383.6,926.7ZM2383.6,926.7L2408.8,946.1L2436.7,931M2408.8,946.1L2408.8,950"/>
<path class="y" d="M2450,935.9L2475.2,955.3L2503.2,940.2L2503.2,935.9L2478,916.5L2450,931.7ZM2450,931.7L2475.2,951.1L2503.2,935.9M2475.2,951.1L2475.2,955.3"/>
<path class="g" d="M2516.4,941.2L2541.6,960.6L2569.6,945.5L2569.6,701.4L2544.4,682L2516.4,697.2ZM2516.4,697.2L2541.6,716.6L2569.6,701.4M2541.6,716.6L2541.6,960.6"/>
<path class="y" d="M2582.9,946.6L2608.1,966L2636,950.8L2636,880.2L2610.8,860.8L2582.9,875.9ZM2582.9,875.9L2608.1,895.3L2636,880.2M2608.1,895.3L2608.1,966"/>
<path class="y" d="M1684.4,896.2L1709.6,915.6L1737.5,900.5L1737.5,888L1712.3,868.6L1684.4,883.8ZM1684.4,883.8L1709.6,903.2L1737.5,888M1709.6,903.2L1709.6,915.6"/>
<path class="y" d="M1750.8,901.5L1776,920.9L1803.9,905.8L1803.9,903.9L1778.7,884.5L1750.8,899.7ZM1750.8,899.7L1776,919.1L1803.9,903.9M1776,919.1L1776,920.9"/>
<path class="y" d="M1817.2,906.9L1842.4,926.3L1870.4,911.1L1870.4,907L1845.2,887.6L1817.2,902.7ZM1817.2,902.7L1842.4,922.1L1870.4,907M1842.4,922.1L1842.4,926.3"/>
<path class="y" d="M1883.6,912.2L1908.8,931.6L1936.8,916.5L1936.8,913.3L1911.6,893.9L1883.6,909.1ZM1883.6,909.1L1908.8,928.5L1936.8,913.3M1908.8,928.5L1908.8,931.6"/>
<path class="y" d="M1950.1,917.5L1975.3,936.9L2003.2,921.8L2003.2,898.6L1978,879.2L1950.1,894.4ZM1950.1,894.4L1975.3,913.8L2003.2,898.6M1975.3,913.8L1975.3,936.9"/>
<path class="y" d="M2016.5,922.8L2041.7,942.2L2069.7,927.1L2069.7,924.5L2044.5,905.1L2016.5,920.2ZM2016.5,920.2L2041.7,939.6L2069.7,924.5M2041.7,939.6L2041.7,942.2"/>
<path class="y" d="M2082.9,928.2L2108.1,947.6L2136.1,932.4L2136.1,929.1L2110.9,909.7L2082.9,924.8ZM2082.9,924.8L2108.1,944.2L2136.1,929.1M2108.1,944.2L2108.1,947.6"/>
<path class="y" d="M2149.4,933.5L2174.6,952.9L2202.5,937.8L2202.5,920.8L2177.3,901.4L2149.4,916.6ZM2149.4,916.6L2174.6,936L2202.5,920.8M2174.6,936L2174.6,952.9"/>
<path class="y" d="M2215.8,938.8L2241,958.2L2268.9,943.1L2268.9,939.9L2243.7,920.5L2215.8,935.7ZM2215.8,935.7L2241,955.1L2268.9,939.9M2241,955.1L2241,958.2"/>
<path class="y" d="M2282.2,944.2L2307.4,963.6L2335.4,948.4L2335.4,944.2L2310.2,924.8L2282.2,939.9ZM2282.2,939.9L2307.4,959.3L2335.4,944.2M2307.4,959.3L2307.4,963.6"/>
<path class="y" d="M2348.7,949.5L2373.9,968.9L2401.8,953.8L2401.8,949.9L2376.6,930.5L2348.7,945.6ZM2348.7,945.6L2373.9,965L2401.8,949.9M2373.9,965L2373.9,968.9"/>
<path class="g" d="M2415.1,954.8L2440.3,974.2L2468.2,959.1L2468.2,672.6L2443,653.2L2415.1,668.4ZM2415.1,668.4L2440.3,687.8L2468.2,672.6M2440.3,687.8L2440.3,974.2"/>
<path class="y" d="M2481.5,960.2L2506.7,979.6L2534.7,964.4L2534.7,857.1L2509.5,837.7L2481.5,852.8ZM2481.5,852.8L2506.7,872.2L2534.7,857.1M2506.7,872.2L2506.7,979.6"/>
<path class="y" d="M2547.9,965.5L2573.1,984.9L2601.1,969.8L2601.1,947.2L2575.9,927.8L2547.9,942.9ZM2547.9,942.9L2573.1,962.3L2601.1,947.2M2573.1,962.3L2573.1,984.9"/>
<path class="y" d="M1715.9,920.4L1741.1,939.8L1769,924.7L1769,920.4L1743.8,901L1715.9,916.2ZM1715.9,916.2L1741.1,935.6L1769,920.4M1741.1,935.6L1741.1,939.8"/>
<path class="y" d="M1782.3,925.8L1807.5,945.2L1835.4,930L1835.4,926.6L1810.2,907.2L1782.3,922.3ZM1782.3,922.3L1807.5,941.7L1835.4,926.6M1807.5,941.7L1807.5,945.2"/>
<path class="y" d="M1848.7,931.1L1873.9,950.5L1901.9,935.4L1901.9,915.6L1876.7,896.2L1848.7,911.3ZM1848.7,911.3L1873.9,930.7L1901.9,915.6M1873.9,930.7L1873.9,950.5"/>
<path class="y" d="M1915.1,936.4L1940.3,955.8L1968.3,940.7L1968.3,936.5L1943.1,917.1L1915.1,932.2ZM1915.1,932.2L1940.3,951.6L1968.3,936.5M1940.3,951.6L1940.3,955.8"/>
<path class="y" d="M1981.6,941.8L2006.8,961.2L2034.7,946L2034.7,942.4L2009.5,923L1981.6,938.1ZM1981.6,938.1L2006.8,957.5L2034.7,942.4M2006.8,957.5L2006.8,961.2"/>
<path class="y" d="M2048,947.1L2073.2,966.5L2101.2,951.4L2101.2,947.8L2076,928.4L2048,943.5ZM2048,943.5L2073.2,962.9L2101.2,947.8M2073.2,962.9L2073.2,966.5"/>
<path class="y" d="M2114.4,952.4L2139.6,971.8L2167.6,956.7L2167.6,954.4L2142.4,935L2114.4,950.1ZM2114.4,950.1L2139.6,969.5L2167.6,954.4M2139.6,969.5L2139.6,971.8"/>
<path class="y" d="M2180.9,957.8L2206.1,977.2L2234,962L2234,959.2L2208.8,939.8L2180.9,954.9ZM2180.9,954.9L2206.1,974.3L2234,959.2M2206.1,974.3L2206.1,977.2"/>
<path class="y" d="M2247.3,963.1L2272.5,982.5L2300.4,967.4L2300.4,963.1L2275.2,943.7L2247.3,958.8ZM2247.3,958.8L2272.5,978.2L2300.4,963.1M2272.5,978.2L2272.5,982.5"/>
<path class="g" d="M2313.7,968.4L2338.9,987.8L2366.9,972.7L2366.9,728.6L2341.7,709.2L2313.7,724.3ZM2313.7,724.3L2338.9,743.7L2366.9,728.6M2338.9,743.7L2338.9,987.8"/>
<path class="y" d="M2380.2,973.7L2405.4,993.1L2433.3,978L2433.3,937.3L2408.1,917.9L2380.2,933.1ZM2380.2,933.1L2405.4,952.5L2433.3,937.3M2405.4,952.5L2405.4,993.1"/>
<path class="y" d="M2446.6,979.1L2471.8,998.5L2499.7,983.3L2499.7,979L2474.5,959.6L2446.6,974.8ZM2446.6,974.8L2471.8,994.2L2499.7,979M2471.8,994.2L2471.8,998.5"/>
<path class="y" d="M2513,984.4L2538.2,1003.8L2566.2,988.7L2566.2,960.4L2541,941L2513,956.2ZM2513,956.2L2538.2,975.6L2566.2,960.4M2538.2,975.6L2538.2,1003.8"/>
<path class="y" d="M1747.4,944.7L1772.6,964.1L1800.5,949L1800.5,944.7L1775.3,925.3L1747.4,940.4ZM1747.4,940.4L1772.6,959.8L1800.5,944.7M1772.6,959.8L1772.6,964.1"/>
<path class="y" d="M1813.8,950L1839,969.4L1866.9,954.3L1866.9,951.2L1841.7,931.8L1813.8,947ZM1813.8,947L1839,966.4L1866.9,951.2M1839,966.4L1839,969.4"/>
<path class="y" d="M1880.2,955.4L1905.4,974.8L1933.4,959.6L1933.4,957.6L1908.2,938.2L1880.2,953.3ZM1880.2,953.3L1905.4,972.7L1933.4,957.6M1905.4,972.7L1905.4,974.8"/>
<path class="y" d="M1946.6,960.7L1971.8,980.1L1999.8,965L1999.8,960.4L1974.6,941L1946.6,956.1ZM1946.6,956.1L1971.8,975.5L1999.8,960.4M1971.8,975.5L1971.8,980.1"/>
<path class="y" d="M2013.1,966L2038.3,985.4L2066.2,970.3L2066.2,965.8L2041,946.4L2013.1,961.6ZM2013.1,961.6L2038.3,981L2066.2,965.8M2038.3,981L2038.3,985.4"/>
<path class="y" d="M2079.5,971.3L2104.7,990.7L2132.7,975.6L2132.7,973L2107.5,953.6L2079.5,968.7ZM2079.5,968.7L2104.7,988.1L2132.7,973M2104.7,988.1L2104.7,990.7"/>
<path class="y" d="M2145.9,976.7L2171.1,996.1L2199.1,980.9L2199.1,979.2L2173.9,959.8L2145.9,975ZM2145.9,975L2171.1,994.4L2199.1,979.2M2171.1,994.4L2171.1,996.1"/>
<path class="g" d="M2212.4,982L2237.6,1001.4L2265.5,986.3L2265.5,693.6L2240.3,674.2L2212.4,689.3ZM2212.4,689.3L2237.6,708.7L2265.5,693.6M2237.6,708.7L2237.6,1001.4"/>
<path class="y" d="M2278.8,987.3L2304,1006.7L2331.9,991.6L2331.9,929.5L2306.7,910.1L2278.8,925.2ZM2278.8,925.2L2304,944.6L2331.9,929.5M2304,944.6L2304,1006.7"/>
<path class="y" d="M2345.2,992.7L2370.4,1012.1L2398.4,996.9L2398.4,994.6L2373.2,975.2L2345.2,990.4ZM2345.2,990.4L2370.4,1009.8L2398.4,994.6M2370.4,1009.8L2370.4,1012.1"/>
<path class="y" d="M2411.7,998L2436.9,1017.4L2464.8,1002.3L2464.8,998.8L2439.6,979.4L2411.7,994.5ZM2411.7,994.5L2436.9,1013.9L2464.8,998.8M2436.9,1013.9L2436.9,1017.4"/>
<path class="y" d="M2478.1,1003.3L2503.3,1022.7L2531.2,1007.6L2531.2,983.9L2506,964.5L2478.1,979.6ZM2478.1,979.6L2503.3,999L2531.2,983.9M2503.3,999L2503.3,1022.7"/>
<path class="y" d="M1778.9,968.9L1804.1,988.3L1832,973.2L1832,970.3L1806.8,950.9L1778.9,966ZM1778.9,966L1804.1,985.4L1832,970.3M1804.1,985.4L1804.1,988.3"/>
<path class="y" d="M1845.3,974.3L1870.5,993.7L1898.4,978.5L1898.4,976.3L1873.2,956.9L1845.3,972.1ZM1845.3,972.1L1870.5,991.5L1898.4,976.3M1870.5,991.5L1870.5,993.7"/>
<path class="y" d="M1911.7,979.6L1936.9,999L1964.9,983.9L1964.9,980.8L1939.7,961.4L1911.7,976.5ZM1911.7,976.5L1936.9,995.9L1964.9,980.8M1936.9,995.9L1936.9,999"/>
<path class="y" d="M1978.1,984.9L2003.3,1004.3L2031.3,989.2L2031.3,984.7L2006.1,965.3L1978.1,980.4ZM1978.1,980.4L2003.3,999.8L2031.3,984.7M2003.3,999.8L2003.3,1004.3"/>
<path class="y" d="M2044.6,990.3L2069.8,1009.7L2097.7,994.5L2097.7,992.2L2072.5,972.8L2044.6,988ZM2044.6,988L2069.8,1007.4L2097.7,992.2M2069.8,1007.4L2069.8,1009.7"/>
<path class="g" d="M2111,995.6L2136.2,1015L2164.2,999.9L2164.2,736.6L2139,717.2L2111,732.3ZM2111,732.3L2136.2,751.7L2164.2,736.6M2136.2,751.7L2136.2,1015"/>
<path class="y" d="M2177.4,1000.9L2202.6,1020.3L2230.6,1005.2L2230.6,953.8L2205.4,934.4L2177.4,949.5ZM2177.4,949.5L2202.6,968.9L2230.6,953.8M2202.6,968.9L2202.6,1020.3"/>
<path class="y" d="M2243.9,1006.3L2269.1,1025.7L2297,1010.5L2297,1006.5L2271.8,987.1L2243.9,1002.2ZM2243.9,1002.2L2269.1,1021.6L2297,1006.5M2269.1,1021.6L2269.1,1025.7"/>
<path class="y" d="M2310.3,1011.6L2335.5,1031L2363.4,1015.9L2363.4,1001.2L2338.2,981.8L2310.3,996.9ZM2310.3,996.9L2335.5,1016.3L2363.4,1001.2M2335.5,1016.3L2335.5,1031"/>
<path class="y" d="M2376.7,1016.9L2401.9,1036.3L2429.9,1021.2L2429.9,993.5L2404.7,974.1L2376.7,989.2ZM2376.7,989.2L2401.9,1008.6L2429.9,993.5M2401.9,1008.6L2401.9,1036.3"/>
<path class="y" d="M2443.2,1022.2L2468.4,1041.6L2496.3,1026.5L2496.3,1013.5L2471.1,994.1L2443.2,1009.3ZM2443.2,1009.3L2468.4,1028.7L2496.3,1013.5M2468.4,1028.7L2468.4,1041.6"/>
<path class="y" d="M1810.4,993.2L1835.6,1012.6L1863.5,997.5L1863.5,992.7L1838.3,973.3L1810.4,988.5ZM1810.4,988.5L1835.6,1007.9L1863.5,992.7M1835.6,1007.9L1835.6,1012.6"/>
<path class="y" d="M1876.8,998.5L1902,1017.9L1929.9,1002.8L1929.9,998.7L1904.7,979.3L1876.8,994.5ZM1876.8,994.5L1902,1013.9L1929.9,998.7M1902,1013.9L1902,1017.9"/>
<path class="y" d="M1943.2,1003.9L1968.4,1023.3L1996.4,1008.1L1996.4,1004.8L1971.2,985.4L1943.2,1000.6ZM1943.2,1000.6L1968.4,1020L1996.4,1004.8M1968.4,1020L1968.4,1023.3"/>
<path class="g" d="M2009.6,1009.2L2034.8,1028.6L2062.8,1013.5L2062.8,720.2L2037.6,700.8L2009.6,716ZM2009.6,716L2034.8,735.4L2062.8,720.2M2034.8,735.4L2034.8,1028.6"/>
<path class="y" d="M2076.1,1014.5L2101.3,1033.9L2129.2,1018.8L2129.2,947L2104,927.6L2076.1,942.8ZM2076.1,942.8L2101.3,962.2L2129.2,947M2101.3,962.2L2101.3,1033.9"/>
<path class="y" d="M2142.5,1019.8L2167.7,1039.2L2195.7,1024.1L2195.7,997L2170.5,977.6L2142.5,992.7ZM2142.5,992.7L2167.7,1012.1L2195.7,997M2167.7,1012.1L2167.7,1039.2"/>
<path class="y" d="M2208.9,1025.2L2234.1,1044.6L2262.1,1029.4L2262.1,1025.3L2236.9,1005.9L2208.9,1021.1ZM2208.9,1021.1L2234.1,1040.5L2262.1,1025.3M2234.1,1040.5L2234.1,1044.6"/>
<path class="y" d="M2275.4,1030.5L2300.6,1049.9L2328.5,1034.8L2328.5,1031.6L2303.3,1012.2L2275.4,1027.3ZM2275.4,1027.3L2300.6,1046.7L2328.5,1031.6M2300.6,1046.7L2300.6,1049.9"/>
<path class="y" d="M2341.8,1035.8L2367,1055.2L2394.9,1040.1L2394.9,1026.5L2369.7,1007.1L2341.8,1022.3ZM2341.8,1022.3L2367,1041.7L2394.9,1026.5M2367,1041.7L2367,1055.2"/>
<path class="y" d="M2408.2,1041.2L2433.4,1060.6L2461.4,1045.4L2461.4,1041.2L2436.2,1021.8L2408.2,1036.9ZM2408.2,1036.9L2433.4,1056.3L2461.4,1041.2M2433.4,1056.3L2433.4,1060.6"/>
<path class="y" d="M1841.9,1017.4L1867.1,1036.8L1895,1021.7L1895,1019L1869.8,999.6L1841.9,1014.7ZM1841.9,1014.7L1867.1,1034.1L1895,1019M1867.1,1034.1L1867.1,1036.8"/>
<path class="g" d="M1908.3,1022.8L1933.5,1042.2L1961.4,1027L1961.4,748.5L1936.2,729.1L1908.3,744.2ZM1908.3,744.2L1933.5,763.6L1961.4,748.5M1933.5,763.6L1933.5,1042.2"/>
<path class="y" d="M1974.7,1028.1L1999.9,1047.5L2027.9,1032.4L2027.9,981.5L2002.7,962.1L1974.7,977.3ZM1974.7,977.3L1999.9,996.7L2027.9,981.5M1999.9,996.7L1999.9,1047.5"/>
<path class="y" d="M2041.1,1033.4L2066.3,1052.8L2094.3,1037.7L2094.3,1034.8L2069.1,1015.4L2041.1,1030.6ZM2041.1,1030.6L2066.3,1050L2094.3,1034.8M2066.3,1050L2066.3,1052.8"/>
<path class="y" d="M2107.6,1038.8L2132.8,1058.2L2160.7,1043L2160.7,1019.3L2135.5,999.9L2107.6,1015ZM2107.6,1015L2132.8,1034.4L2160.7,1019.3M2132.8,1034.4L2132.8,1058.2"/>
<path class="y" d="M2174,1044.1L2199.2,1063.5L2227.2,1048.4L2227.2,1045.5L2202,1026.1L2174,1041.2ZM2174,1041.2L2199.2,1060.6L2227.2,1045.5M2199.2,1060.6L2199.2,1063.5"/>
<path class="y" d="M2240.4,1049.4L2265.6,1068.8L2293.6,1053.7L2293.6,1049.8L2268.4,1030.4L2240.4,1045.5ZM2240.4,1045.5L2265.6,1064.9L2293.6,1049.8M2265.6,1064.9L2265.6,1068.8"/>
<path class="y" d="M2306.9,1054.8L2332.1,1074.2L2360,1059L2360,1056.1L2334.8,1036.7L2306.9,1051.9ZM2306.9,1051.9L2332.1,1071.3L2360,1056.1M2332.1,1071.3L2332.1,1074.2"/>
<path class="y" d="M2373.3,1060.1L2398.5,1079.5L2426.4,1064.4L2426.4,1059.9L2401.2,1040.5L2373.3,1055.6ZM2373.3,1055.6L2398.5,1075L2426.4,1059.9M2398.5,1075L2398.5,1079.5"/>
<path class="y" d="M1873.4,1041.7L1898.6,1061.1L1926.5,1046L1926.5,962.9L1901.3,943.5L1873.4,958.6ZM1873.4,958.6L1898.6,978L1926.5,962.9M1898.6,978L1898.6,1061.1"/>
<path class="y" d="M1939.8,1047L1965,1066.4L1992.9,1051.3L1992.9,1046.3L1967.7,1026.9L1939.8,1042.1ZM1939.8,1042.1L1965,1061.5L1992.9,1046.3M1965,1061.5L1965,1066.4"/>
<path class="y" d="M2006.2,1052.4L2031.4,1071.8L2059.4,1056.6L2059.4,1053.9L2034.2,1034.5L2006.2,1049.6ZM2006.2,1049.6L2031.4,1069L2059.4,1053.9M2031.4,1069L2031.4,1071.8"/>
<path class="y" d="M2072.6,1057.7L2097.8,1077.1L2125.8,1062L2125.8,1057.3L2100.6,1037.9L2072.6,1053ZM2072.6,1053L2097.8,1072.4L2125.8,1057.3M2097.8,1072.4L2097.8,1077.1"/>
<path class="y" d="M2139.1,1063L2164.3,1082.4L2192.2,1067.3L2192.2,1063.9L2167,1044.5L2139.1,1059.6ZM2139.1,1059.6L2164.3,1079L2192.2,1063.9M2164.3,1079L2164.3,1082.4"/>
<path class="y" d="M2205.5,1068.3L2230.7,1087.7L2258.7,1072.6L2258.7,1069.1L2233.5,1049.7L2205.5,1064.8ZM2205.5,1064.8L2230.7,1084.2L2258.7,1069.1M2230.7,1084.2L2230.7,1087.7"/>
<path class="y" d="M2271.9,1073.7L2297.1,1093.1L2325.1,1077.9L2325.1,1073.6L2299.9,1054.2L2271.9,1069.4ZM2271.9,1069.4L2297.1,1088.8L2325.1,1073.6M2297.1,1088.8L2297.1,1093.1"/>
<path class="y" d="M2338.4,1079L2363.6,1098.4L2391.5,1083.3L2391.5,1079L2366.3,1059.6L2338.4,1074.8ZM2338.4,1074.8L2363.6,1094.2L2391.5,1079M2363.6,1094.2L2363.6,1098.4"/>
<path class="y" d="M1904.9,1065.9L1930.1,1085.3L1958,1070.2L1958,1039.1L1932.8,1019.7L1904.9,1034.9ZM1904.9,1034.9L1930.1,1054.3L1958,1039.1M1930.1,1054.3L1930.1,1085.3"/>
<path class="y" d="M1971.3,1071.3L1996.5,1090.7L2024.4,1075.5L2024.4,1059.7L1999.2,1040.3L1971.3,1055.5ZM1971.3,1055.5L1996.5,1074.9L2024.4,1059.7M1996.5,1074.9L1996.5,1090.7"/>
<path class="y" d="M2037.7,1076.6L2062.9,1096L2090.9,1080.9L2090.9,1063.9L2065.7,1044.5L2037.7,1059.7ZM2037.7,1059.7L2062.9,1079.1L2090.9,1063.9M2062.9,1079.1L2062.9,1096"/>
<path class="y" d="M2104.1,1081.9L2129.3,1101.3L2157.3,1086.2L2157.3,1084.1L2132.1,1064.7L2104.1,1079.8ZM2104.1,1079.8L2129.3,1099.2L2157.3,1084.1M2129.3,1099.2L2129.3,1101.3"/>
<path class="y" d="M2170.6,1087.3L2195.8,1106.7L2223.7,1091.5L2223.7,1087.8L2198.5,1068.4L2170.6,1083.5ZM2170.6,1083.5L2195.8,1102.9L2223.7,1087.8M2195.8,1102.9L2195.8,1106.7"/>
<path class="y" d="M2237,1092.6L2262.2,1112L2290.2,1096.9L2290.2,1094.3L2265,1074.9L2237,1090.1ZM2237,1090.1L2262.2,1109.5L2290.2,1094.3M2262.2,1109.5L2262.2,1112"/>
<path class="y" d="M2303.4,1097.9L2328.6,1117.3L2356.6,1102.2L2356.6,1099.1L2331.4,1079.7L2303.4,1094.8ZM2303.4,1094.8L2328.6,1114.2L2356.6,1099.1M2328.6,1114.2L2328.6,1117.3"/>
<path class="y" d="M1936.4,1090.2L1961.6,1109.6L1989.5,1094.5L1989.5,1085.4L1964.3,1066L1936.4,1081.2ZM1936.4,1081.2L1961.6,1100.6L1989.5,1085.4M1961.6,1100.6L1961.6,1109.6"/>
<path class="y" d="M2002.8,1095.5L2028,1114.9L2055.9,1099.8L2055.9,1095.8L2030.7,1076.4L2002.8,1091.6ZM2002.8,1091.6L2028,1111L2055.9,1095.8M2028,1111L2028,1114.9"/>
<path class="y" d="M2069.2,1100.9L2094.4,1120.3L2122.4,1105.1L2122.4,1101.6L2097.2,1082.2L2069.2,1097.4ZM2069.2,1097.4L2094.4,1116.8L2122.4,1101.6M2094.4,1116.8L2094.4,1120.3"/>
<path class="y" d="M2135.6,1106.2L2160.8,1125.6L2188.8,1110.5L2188.8,1086.7L2163.6,1067.3L2135.6,1082.5ZM2135.6,1082.5L2160.8,1101.9L2188.8,1086.7M2160.8,1101.9L2160.8,1125.6"/>
<path class="y" d="M2202.1,1111.5L2227.3,1130.9L2255.2,1115.8L2255.2,1112.4L2230,1093L2202.1,1108.1ZM2202.1,1108.1L2227.3,1127.5L2255.2,1112.4M2227.3,1127.5L2227.3,1130.9"/>
<path class="y" d="M2268.5,1116.8L2293.7,1136.2L2321.7,1121.1L2321.7,1118.8L2296.5,1099.4L2268.5,1114.5ZM2268.5,1114.5L2293.7,1133.9L2321.7,1118.8M2293.7,1133.9L2293.7,1136.2"/>
<path class="y" d="M1967.9,1114.4L1993.1,1133.8L2021,1118.7L2021,1116.1L1995.8,1096.7L1967.9,1111.8ZM1967.9,1111.8L1993.1,1131.2L2021,1116.1M1993.1,1131.2L1993.1,1133.8"/>
<path class="y" d="M2034.3,1119.8L2059.5,1139.2L2087.4,1124L2087.4,1104.8L2062.2,1085.4L2034.3,1100.6ZM2034.3,1100.6L2059.5,1120L2087.4,1104.8M2059.5,1120L2059.5,1139.2"/>
<path class="y" d="M2100.7,1125.1L2125.9,1144.5L2153.9,1129.4L2153.9,1122L2128.7,1102.6L2100.7,1117.8ZM2100.7,1117.8L2125.9,1137.2L2153.9,1122M2125.9,1137.2L2125.9,1144.5"/>
<path class="y" d="M2167.1,1130.4L2192.3,1149.8L2220.3,1134.7L2220.3,1132.8L2195.1,1113.4L2167.1,1128.6ZM2167.1,1128.6L2192.3,1148L2220.3,1132.8M2192.3,1148L2192.3,1149.8"/>
<path class="y" d="M2233.6,1135.8L2258.8,1155.2L2286.7,1140L2286.7,1137.7L2261.5,1118.3L2233.6,1133.5ZM2233.6,1133.5L2258.8,1152.9L2286.7,1137.7M2258.8,1152.9L2258.8,1155.2"/>
<path class="y" d="M1999.4,1138.7L2024.6,1158.1L2052.5,1143L2052.5,1126.6L2027.3,1107.2L1999.4,1122.3ZM1999.4,1122.3L2024.6,1141.7L2052.5,1126.6M2024.6,1141.7L2024.6,1158.1"/>
<path class="y" d="M2065.8,1144L2091,1163.4L2118.9,1148.3L2118.9,1146.1L2093.7,1126.7L2065.8,1141.9ZM2065.8,1141.9L2091,1161.3L2118.9,1146.1M2091,1161.3L2091,1163.4"/>
<path class="y" d="M2132.2,1149.4L2157.4,1168.8L2185.4,1153.6L2185.4,1149L2160.2,1129.6L2132.2,1144.7ZM2132.2,1144.7L2157.4,1164.1L2185.4,1149M2157.4,1164.1L2157.4,1168.8"/>
<path class="y" d="M2198.6,1154.7L2223.8,1174.1L2251.8,1159L2251.8,1154.8L2226.6,1135.4L2198.6,1150.5ZM2198.6,1150.5L2223.8,1169.9L2251.8,1154.8M2223.8,1169.9L2223.8,1174.1"/>
<path class="y" d="M2030.9,1162.9L2056.1,1182.3L2084,1167.2L2084,1162.4L2058.8,1143L2030.9,1158.1ZM2030.9,1158.1L2056.1,1177.5L2084,1162.4M2056.1,1177.5L2056.1,1182.3"/>
<path class="y" d="M2097.3,1168.3L2122.5,1187.7L2150.4,1172.5L2150.4,1169.5L2125.2,1150.1L2097.3,1165.3ZM2097.3,1165.3L2122.5,1184.7L2150.4,1169.5M2122.5,1184.7L2122.5,1187.7"/>
<path class="y" d="M2163.7,1173.6L2188.9,1193L2216.9,1177.9L2216.9,1173.5L2191.7,1154.1L2163.7,1169.3ZM2163.7,1169.3L2188.9,1188.7L2216.9,1173.5M2188.9,1188.7L2188.9,1193"/>
<path class="y" d="M2062.4,1187.2L2087.6,1206.6L2115.5,1191.5L2115.5,1188.9L2090.3,1169.5L2062.4,1184.6ZM2062.4,1184.6L2087.6,1204L2115.5,1188.9M2087.6,1204L2087.6,1206.6"/>
<path class="y" d="M2128.8,1192.5L2154,1211.9L2181.9,1196.8L2181.9,1194.7L2156.7,1175.3L2128.8,1190.4ZM2128.8,1190.4L2154,1209.8L2181.9,1194.7M2154,1209.8L2154,1211.9"/>
<path class="y" d="M2093.9,1211.4L2119.1,1230.8L2147,1215.7L2147,1213.7L2121.8,1194.3L2093.9,1209.4ZM2093.9,1209.4L2119.1,1228.8L2147,1213.7M2119.1,1228.8L2119.1,1230.8"/>
</g>
<path d="M1581.5,844.5V449M1581.5,844.5L2117,1256.8L2710.8,935.1M1613,868.8l-15.7,8.5M2151.9,1237.8l13.2,10.2M1644.5,893l-15.7,8.5M2186.9,1218.9l13.2,10.2M1676,917.2l-15.7,8.5M2221.8,1200l13.2,10.2M1707.5,941.5l-15.7,8.5M2256.7,1181.1l13.2,10.2M1739,965.8l-15.7,8.5M2291.7,1162.2l13.2,10.2M1770.5,990l-15.7,8.5M2326.6,1143.2l13.2,10.2M1802,1014.2l-15.7,8.5M2361.5,1124.3l13.2,10.2M1833.5,1038.5l-15.7,8.5M2396.4,1105.4l13.2,10.2M1865,1062.8l-15.7,8.5M2431.4,1086.5l13.2,10.2M1896.5,1087l-15.7,8.5M2466.3,1067.5l13.2,10.2M1928,1111.2l-15.7,8.5M2501.2,1048.6l13.2,10.2M1959.5,1135.5l-15.7,8.5M2536.2,1029.7l13.2,10.2M1991,1159.8l-15.7,8.5M2571.1,1010.8l13.2,10.2M2022.5,1184l-15.7,8.5M2606,991.9l13.2,10.2M2054,1208.2l-15.7,8.5M2640.9,973l13.2,10.2M2085.5,1232.5l-15.7,8.5M2675.9,954l13.2,10.2M1581.5,844.5l-15,-9M1581.5,788l-15,-9M1581.5,731.5l-15,-9M1581.5,675l-15,-9M1581.5,618.5l-15,-9M1581.5,562l-15,-9M1581.5,505.5l-15,-9M1581.5,449l-15,-9" fill="none" stroke="#231f20" stroke-width="2.8" stroke-linecap="butt"/>
<g font-family="Liberation Sans, Arial, sans-serif" font-size="33.5" fill="#231f20"><text x="1583" y="915" text-anchor="end">0</text><text x="2176.5" y="1286.7">0</text><text x="1614.5" y="939.2" text-anchor="end">1</text><text x="2211.5" y="1267.8">1</text><text x="1646" y="963.5" text-anchor="end">2</text><text x="2246.4" y="1248.9">2</text><text x="1677.5" y="987.7" text-anchor="end">3</text><text x="2281.3" y="1230">3</text><text x="1709" y="1012" text-anchor="end">4</text><text x="2316.2" y="1211">4</text><text x="1740.5" y="1036.2" text-anchor="end">5</text><text x="2351.2" y="1192.1">5</text><text x="1772" y="1060.4" text-anchor="end">6</text><text x="2386.1" y="1173.2">6</text><text x="1803.5" y="1084.7" text-anchor="end">7</text><text x="2421" y="1154.3">7</text><text x="1835" y="1108.9" text-anchor="end">8</text><text x="2456" y="1135.4">8</text><text x="1866.5" y="1133.2" text-anchor="end">9</text><text x="2490.9" y="1116.4">9</text><text x="1898" y="1157.4" text-anchor="end">10</text><text x="2525.8" y="1097.5">10</text><text x="1929.5" y="1181.7" text-anchor="end">11</text><text x="2560.8" y="1078.6">11</text><text x="1961" y="1205.9" text-anchor="end">12</text><text x="2595.7" y="1059.7">12</text><text x="1992.5" y="1230.2" text-anchor="end">13</text><text x="2630.6" y="1040.8">13</text><text x="2024" y="1254.4" text-anchor="end">14</text><text x="2665.5" y="1021.9">14</text><text x="2055.5" y="1278.7" text-anchor="end">15</text><text x="2700.5" y="1002.9">15</text><text x="1556.4" y="840.1" text-anchor="end">0</text><text x="1552.1" y="783.6" text-anchor="end">0.1</text><text x="1552.1" y="727.1" text-anchor="end">0.2</text><text x="1552.1" y="670.6" text-anchor="end">0.3</text><text x="1552.1" y="614.1" text-anchor="end">0.4</text><text x="1552.1" y="557.6" text-anchor="end">0.5</text><text x="1552.1" y="501.1" text-anchor="end">0.6</text><text x="1552.1" y="444.6" text-anchor="end">0.7</text></g>
<g font-family="Liberation Sans, Arial, sans-serif" font-size="44" fill="#231f20">
<text transform="matrix(1,0,0,1.07,290,1189.7)">Input</text>
<text transform="matrix(1,0,0,1.07,1661.4,1190.5)">Input</text>
<text transform="matrix(1,0,0,1.07,1166.7,1191)">Output</text>
<text transform="matrix(1,0,0,1.07,2536.6,1191.5)">Output</text>
</g>
<g font-family="Liberation Sans, Arial, sans-serif" font-size="43.6" fill="#231f20">
<text transform="translate(68.5,597.5) rotate(-90)" text-anchor="middle">Probability</text>
<text transform="translate(1452.5,597.5) rotate(-90)" text-anchor="middle">Probability</text>
</g>
<g font-family="Liberation Sans, Arial, sans-serif" font-weight="bold" font-size="85.5" fill="#333" stroke="#333" stroke-width="2.2" stroke-linejoin="round">
<text transform="translate(143,247.7) scale(0.77,1)">A</text>
<text transform="translate(1516.5,247.7) scale(0.77,1)">B</text>
</g>
</svg></body></html>
